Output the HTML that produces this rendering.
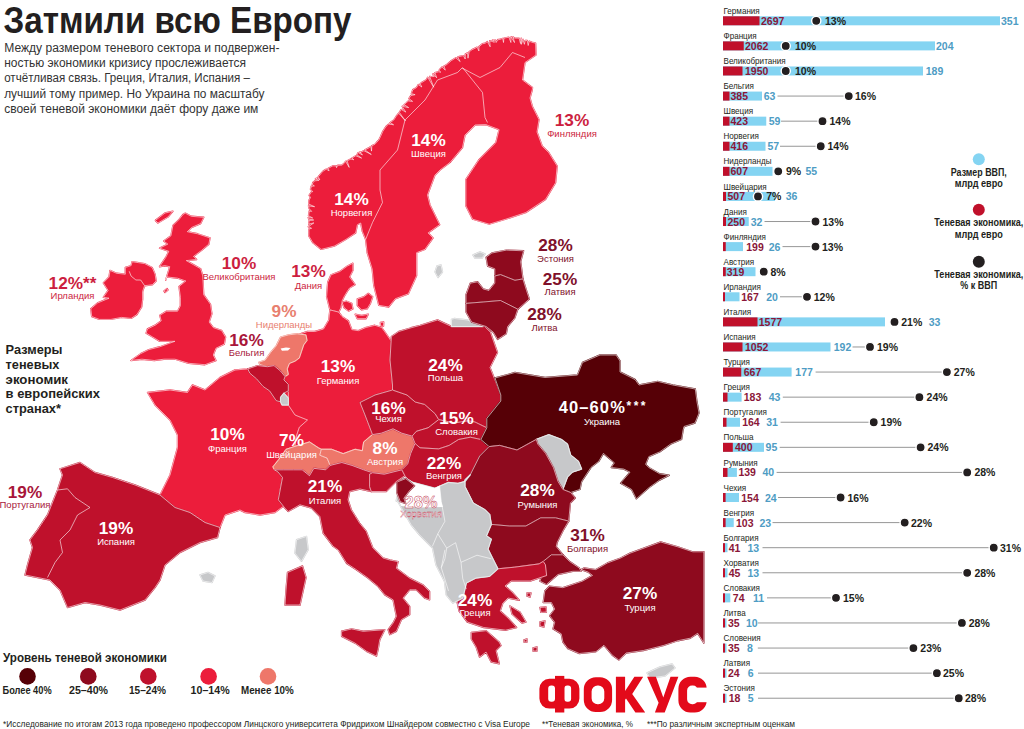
<!DOCTYPE html><html><head><meta charset="utf-8"><style>html,body{margin:0;padding:0;background:#fff;width:1024px;height:729px;overflow:hidden}svg{display:block;font-family:"Liberation Sans",sans-serif}</style></head><body>
<svg width="1024" height="729" viewBox="0 0 1024 729">
<g stroke-linejoin="round">
<path d="M132.1,261.7 L138.8,262.7 L144.6,263.6 L152.2,267.5 L155.1,274.2 L156.1,280.9 L152.2,284.8 L144.6,285.7 L142.6,291.5 L142.6,299.2 L141.7,306.9 L136.9,314.6 L131.1,318.4 L121.5,317.4 L110.9,319.4 L99.4,319.4 L91.7,316.5 L90.8,308.8 L97.5,303.0 L109.0,298.2 L103.3,297.3 L108.1,290.5 L103.3,282.9 L109.0,277.1 L110.0,270.4 L116.7,273.3 L125.3,274.2 L125.3,267.5 L131.1,265.6Z" fill="#EC1D3B" stroke="#EC1D3B" stroke-width="1.4"/>
<path d="M132.1,261.7 L138.8,262.7 L144.6,263.6 L152.2,267.5 L155.1,274.2 L156.1,280.9 L152.2,284.8 L144.6,285.7 L142.6,291.5 L142.6,299.2 L141.7,306.9 L136.9,314.6 L131.1,318.4 L121.5,317.4 L110.9,319.4 L99.4,319.4 L91.7,316.5 L90.8,308.8 L97.5,303.0 L109.0,298.2 L103.3,297.3 L108.1,290.5 L103.3,282.9 L109.0,277.1 L110.0,270.4 L116.7,273.3 L125.3,274.2 L125.3,267.5 L131.1,265.6Z" fill="none" stroke="#fff" stroke-opacity="0.85" stroke-width="0.7"/>
<path d="M185.3,213.2 L191.4,216.3 L203.8,217.3 L200.7,223.5 L191.4,227.6 L187.3,231.7 L197.6,233.8 L210.0,237.9 L208.9,244.1 L201.7,250.3 L193.5,256.4 L196.6,259.5 L186.3,260.6 L193.5,264.7 L200.7,268.8 L202.8,276.0 L203.7,294.7 L210.5,304.3 L211.9,313.9 L209.2,322.1 L213.3,327.6 L221.5,330.4 L225.6,337.2 L224.3,344.1 L216.0,348.2 L213.3,355.0 L216.0,360.5 L205.0,364.7 L188.6,363.3 L174.9,359.2 L163.9,359.2 L154.3,360.5 L141.9,359.2 L131.0,360.5 L140.6,353.7 L148.8,349.6 L159.8,346.8 L174.9,341.3 L159.8,341.3 L152.9,337.2 L146.1,333.1 L147.4,329.0 L155.7,324.9 L161.2,320.8 L159.8,315.3 L166.6,311.2 L177.6,311.2 L180.4,305.7 L180.4,297.4 L179.0,286.5 L185.8,281.0 L177.6,278.2 L166.6,276.9 L165.7,280.0 L169.8,266.7 L164.7,265.7 L159.5,266.7 L165.7,257.5 L168.8,251.3 L159.5,248.2 L167.8,244.1 L163.7,241.0 L170.9,235.9 L172.9,225.6 L179.1,219.4 L183.2,214.3Z" fill="#EC1D3B" stroke="#EC1D3B" stroke-width="1.4"/>
<path d="M185.3,213.2 L191.4,216.3 L203.8,217.3 L200.7,223.5 L191.4,227.6 L187.3,231.7 L197.6,233.8 L210.0,237.9 L208.9,244.1 L201.7,250.3 L193.5,256.4 L196.6,259.5 L186.3,260.6 L193.5,264.7 L200.7,268.8 L202.8,276.0 L203.7,294.7 L210.5,304.3 L211.9,313.9 L209.2,322.1 L213.3,327.6 L221.5,330.4 L225.6,337.2 L224.3,344.1 L216.0,348.2 L213.3,355.0 L216.0,360.5 L205.0,364.7 L188.6,363.3 L174.9,359.2 L163.9,359.2 L154.3,360.5 L141.9,359.2 L131.0,360.5 L140.6,353.7 L148.8,349.6 L159.8,346.8 L174.9,341.3 L159.8,341.3 L152.9,337.2 L146.1,333.1 L147.4,329.0 L155.7,324.9 L161.2,320.8 L159.8,315.3 L166.6,311.2 L177.6,311.2 L180.4,305.7 L180.4,297.4 L179.0,286.5 L185.8,281.0 L177.6,278.2 L166.6,276.9 L165.7,280.0 L169.8,266.7 L164.7,265.7 L159.5,266.7 L165.7,257.5 L168.8,251.3 L159.5,248.2 L167.8,244.1 L163.7,241.0 L170.9,235.9 L172.9,225.6 L179.1,219.4 L183.2,214.3Z" fill="none" stroke="#fff" stroke-opacity="0.85" stroke-width="0.7"/>
<path d="M308.8,236.0 L308.9,233.2 L308.8,229.1 L311.6,228.3 L308.8,226.8 L308.3,226.7 L313.9,222.9 L308.6,224.1 L309.2,220.5 L313.7,220.0 L309.0,219.2 L308.2,217.6 L312.7,218.0 L308.5,215.7 L308.8,214.0 L309.2,211.0 L311.7,211.4 L309.1,208.6 L308.5,205.9 L314.6,206.7 L308.7,204.1 L309.0,200.0 L310.5,197.6 L309.1,195.4 L311.6,191.6 L312.7,191.7 L311.3,190.0 L310.4,189.0 L311.0,188.0 L311.2,186.3 L314.4,185.9 L312.3,184.6 L312.8,182.6 L314.9,180.8 L318.9,180.4 L315.9,178.4 L315.4,179.0 L317.7,178.0 L319.8,179.9 L318.3,176.7 L321.9,172.4 L323.3,170.9 L326.3,169.2 L329.1,170.8 L328.2,168.4 L329.6,167.6 L332.9,165.8 L336.3,166.0 L336.5,167.7 L337.7,165.3 L339.0,165.2 L341.9,165.1 L343.9,163.6 L345.6,161.3 L349.2,167.4 L347.1,160.8 L350.9,159.0 L353.8,159.8 L352.1,158.1 L352.0,158.0 L355.7,155.8 L361.6,158.1 L356.9,154.8 L358.2,152.5 L362.5,155.0 L359.9,152.0 L359.7,152.8 L363.9,150.7 L371.3,154.5 L364.9,149.9 L369.1,147.7 L370.9,146.5 L371.5,151.1 L371.9,145.6 L374.8,144.4 L376.3,142.8 L378.8,140.0 L380.4,136.8 L382.8,131.4 L386.2,126.2 L388.7,124.1 L393.6,124.8 L390.1,122.5 L393.7,120.1 L396.2,116.3 L398.7,113.3 L405.4,120.8 L399.3,112.3 L401.3,109.5 L405.8,112.1 L402.8,107.5 L402.2,106.3 L408.7,107.6 L404.2,104.7 L406.2,103.0 L408.3,100.9 L412.6,101.4 L408.9,98.6 L410.9,95.5 L415.1,94.7 L411.4,93.6 L412.8,89.7 L416.5,87.6 L418.3,84.6 L421.8,87.0 L420.2,83.7 L421.9,82.4 L426.1,79.8 L427.7,77.3 L433.7,87.2 L429.7,76.5 L431.5,76.6 L434.3,76.5 L433.1,74.9 L433.0,73.6 L436.7,77.8 L434.9,72.6 L438.6,71.8 L440.8,72.2 L439.2,70.6 L439.4,69.8 L442.1,67.1 L445.3,70.1 L444.0,66.2 L446.8,64.5 L451.4,60.6 L455.8,57.8 L460.2,61.6 L457.7,57.1 L459.3,56.5 L463.4,55.6 L465.2,59.0 L465.3,54.1 L467.5,53.0 L468.0,58.2 L469.1,51.9 L472.0,49.7 L477.2,47.2 L478.9,51.0 L478.9,46.5 L479.2,46.6 L482.4,43.8 L485.2,43.2 L487.3,41.6 L490.2,46.8 L489.7,40.8 L491.9,41.4 L494.3,42.3 L493.6,39.9 L492.5,39.9 L495.7,40.2 L496.1,42.5 L498.0,39.4 L498.6,39.7 L502.7,38.4 L503.5,42.5 L503.9,38.1 L508.9,37.2 L510.9,42.5 L511.0,36.9 L511.1,36.9 L514.5,42.5 L513.0,36.6 L512.4,36.6 L514.8,38.1 L519.1,38.1 L520.5,43.5 L521.3,38.9 L521.2,38.3 L521.3,44.4 L523.1,39.3 L523.2,40.3 L524.4,44.3 L525.2,40.5 L527.2,40.5 L528.2,45.5 L529.2,41.2 L531.8,42.2 L535.6,43.2 L536.0,55.0 L525.0,62.5 L522.5,80.0 L532.5,87.5 L532.3,89.7 L530.0,98.0 L532.3,106.3 L539.0,119.6 L537.0,132.0 L542.3,146.2 L548.9,152.8 L557.2,166.1 L555.6,182.7 L545.6,199.3 L525.7,212.6 L505.8,219.2 L489.2,224.2 L472.6,219.2 L465.9,205.9 L465.9,179.4 L479.2,159.4 L495.8,142.8 L499.1,129.6 L485.8,124.6 L475.0,125.0 L465.0,135.0 L462.5,147.5 L450.0,162.5 L440.0,170.0 L435.0,175.0 L427.5,195.0 L430.0,205.0 L439.7,224.7 L428.1,232.9 L433.0,238.0 L424.9,249.4 L416.6,252.7 L416.6,275.7 L408.4,293.8 L395.2,298.8 L388.6,307.0 L378.8,305.4 L373.8,285.6 L372.2,269.1 L367.2,252.7 L365.6,239.5 L362.3,231.3 L360.7,223.0 L357.4,224.7 L355.7,232.9 L345.8,239.5 L334.3,246.1 L321.2,249.4 L312.9,242.8Z" fill="#EC1D3B" stroke="#EC1D3B" stroke-width="1.4"/>
<path d="M308.8,236.0 L308.9,233.2 L308.8,229.1 L311.6,228.3 L308.8,226.8 L308.3,226.7 L313.9,222.9 L308.6,224.1 L309.2,220.5 L313.7,220.0 L309.0,219.2 L308.2,217.6 L312.7,218.0 L308.5,215.7 L308.8,214.0 L309.2,211.0 L311.7,211.4 L309.1,208.6 L308.5,205.9 L314.6,206.7 L308.7,204.1 L309.0,200.0 L310.5,197.6 L309.1,195.4 L311.6,191.6 L312.7,191.7 L311.3,190.0 L310.4,189.0 L311.0,188.0 L311.2,186.3 L314.4,185.9 L312.3,184.6 L312.8,182.6 L314.9,180.8 L318.9,180.4 L315.9,178.4 L315.4,179.0 L317.7,178.0 L319.8,179.9 L318.3,176.7 L321.9,172.4 L323.3,170.9 L326.3,169.2 L329.1,170.8 L328.2,168.4 L329.6,167.6 L332.9,165.8 L336.3,166.0 L336.5,167.7 L337.7,165.3 L339.0,165.2 L341.9,165.1 L343.9,163.6 L345.6,161.3 L349.2,167.4 L347.1,160.8 L350.9,159.0 L353.8,159.8 L352.1,158.1 L352.0,158.0 L355.7,155.8 L361.6,158.1 L356.9,154.8 L358.2,152.5 L362.5,155.0 L359.9,152.0 L359.7,152.8 L363.9,150.7 L371.3,154.5 L364.9,149.9 L369.1,147.7 L370.9,146.5 L371.5,151.1 L371.9,145.6 L374.8,144.4 L376.3,142.8 L378.8,140.0 L380.4,136.8 L382.8,131.4 L386.2,126.2 L388.7,124.1 L393.6,124.8 L390.1,122.5 L393.7,120.1 L396.2,116.3 L398.7,113.3 L405.4,120.8 L399.3,112.3 L401.3,109.5 L405.8,112.1 L402.8,107.5 L402.2,106.3 L408.7,107.6 L404.2,104.7 L406.2,103.0 L408.3,100.9 L412.6,101.4 L408.9,98.6 L410.9,95.5 L415.1,94.7 L411.4,93.6 L412.8,89.7 L416.5,87.6 L418.3,84.6 L421.8,87.0 L420.2,83.7 L421.9,82.4 L426.1,79.8 L427.7,77.3 L433.7,87.2 L429.7,76.5 L431.5,76.6 L434.3,76.5 L433.1,74.9 L433.0,73.6 L436.7,77.8 L434.9,72.6 L438.6,71.8 L440.8,72.2 L439.2,70.6 L439.4,69.8 L442.1,67.1 L445.3,70.1 L444.0,66.2 L446.8,64.5 L451.4,60.6 L455.8,57.8 L460.2,61.6 L457.7,57.1 L459.3,56.5 L463.4,55.6 L465.2,59.0 L465.3,54.1 L467.5,53.0 L468.0,58.2 L469.1,51.9 L472.0,49.7 L477.2,47.2 L478.9,51.0 L478.9,46.5 L479.2,46.6 L482.4,43.8 L485.2,43.2 L487.3,41.6 L490.2,46.8 L489.7,40.8 L491.9,41.4 L494.3,42.3 L493.6,39.9 L492.5,39.9 L495.7,40.2 L496.1,42.5 L498.0,39.4 L498.6,39.7 L502.7,38.4 L503.5,42.5 L503.9,38.1 L508.9,37.2 L510.9,42.5 L511.0,36.9 L511.1,36.9 L514.5,42.5 L513.0,36.6 L512.4,36.6 L514.8,38.1 L519.1,38.1 L520.5,43.5 L521.3,38.9 L521.2,38.3 L521.3,44.4 L523.1,39.3 L523.2,40.3 L524.4,44.3 L525.2,40.5 L527.2,40.5 L528.2,45.5 L529.2,41.2 L531.8,42.2 L535.6,43.2 L536.0,55.0 L525.0,62.5 L522.5,80.0 L532.5,87.5 L532.3,89.7 L530.0,98.0 L532.3,106.3 L539.0,119.6 L537.0,132.0 L542.3,146.2 L548.9,152.8 L557.2,166.1 L555.6,182.7 L545.6,199.3 L525.7,212.6 L505.8,219.2 L489.2,224.2 L472.6,219.2 L465.9,205.9 L465.9,179.4 L479.2,159.4 L495.8,142.8 L499.1,129.6 L485.8,124.6 L475.0,125.0 L465.0,135.0 L462.5,147.5 L450.0,162.5 L440.0,170.0 L435.0,175.0 L427.5,195.0 L430.0,205.0 L439.7,224.7 L428.1,232.9 L433.0,238.0 L424.9,249.4 L416.6,252.7 L416.6,275.7 L408.4,293.8 L395.2,298.8 L388.6,307.0 L378.8,305.4 L373.8,285.6 L372.2,269.1 L367.2,252.7 L365.6,239.5 L362.3,231.3 L360.7,223.0 L357.4,224.7 L355.7,232.9 L345.8,239.5 L334.3,246.1 L321.2,249.4 L312.9,242.8Z" fill="none" stroke="#fff" stroke-opacity="0.85" stroke-width="0.7"/>
<path d="M331.0,274.8 L339.8,271.5 L347.4,266.0 L352.9,263.2 L352.9,270.4 L349.6,277.0 L355.1,284.6 L349.6,288.0 L347.4,291.2 L344.1,296.7 L342.0,301.1 L340.9,307.7 L338.7,312.1 L329.9,309.9 L326.6,296.7 L327.7,282.4Z" fill="#EC1D3B" stroke="#EC1D3B" stroke-width="1.4"/>
<path d="M331.0,274.8 L339.8,271.5 L347.4,266.0 L352.9,263.2 L352.9,270.4 L349.6,277.0 L355.1,284.6 L349.6,288.0 L347.4,291.2 L344.1,296.7 L342.0,301.1 L340.9,307.7 L338.7,312.1 L329.9,309.9 L326.6,296.7 L327.7,282.4Z" fill="none" stroke="#fff" stroke-opacity="0.85" stroke-width="0.7"/>
<path d="M342.0,302.2 L346.3,301.1 L351.8,303.3 L352.9,308.8 L348.5,311.0 L344.1,307.7Z" fill="#EC1D3B" stroke="#EC1D3B" stroke-width="1.4"/>
<path d="M342.0,302.2 L346.3,301.1 L351.8,303.3 L352.9,308.8 L348.5,311.0 L344.1,307.7Z" fill="none" stroke="#fff" stroke-opacity="0.85" stroke-width="0.7"/>
<path d="M357.3,298.9 L363.9,296.7 L368.3,293.4 L372.7,296.7 L370.5,303.3 L367.2,308.8 L361.7,309.9 L357.3,305.5Z" fill="#EC1D3B" stroke="#EC1D3B" stroke-width="1.4"/>
<path d="M357.3,298.9 L363.9,296.7 L368.3,293.4 L372.7,296.7 L370.5,303.3 L367.2,308.8 L361.7,309.9 L357.3,305.5Z" fill="none" stroke="#fff" stroke-opacity="0.85" stroke-width="0.7"/>
<path d="M355.1,314.3 L361.7,315.4 L368.3,314.3 L366.1,318.7 L357.3,318.7Z" fill="#EC1D3B" stroke="#EC1D3B" stroke-width="1.4"/>
<path d="M355.1,314.3 L361.7,315.4 L368.3,314.3 L366.1,318.7 L357.3,318.7Z" fill="none" stroke="#fff" stroke-opacity="0.85" stroke-width="0.7"/>
<path d="M235.0,370.0 L247.7,368.9 L265.0,366.0 L282.0,372.0 L290.0,385.0 L290.0,400.0 L289.0,405.5 L295.0,415.0 L307.5,420.0 L299.3,427.3 L296.4,436.1 L294.9,446.4 L286.1,449.3 L278.8,459.5 L272.9,466.9 L278.0,472.0 L282.5,477.5 L280.0,490.0 L285.0,505.0 L275.0,512.5 L260.0,515.0 L245.0,512.5 L240.0,510.0 L225.0,515.0 L220.0,527.5 L205.0,522.5 L190.0,512.5 L175.0,507.5 L160.0,495.0 L165.0,485.0 L170.0,475.0 L177.5,447.5 L177.5,435.0 L170.0,420.0 L155.0,405.0 L147.5,392.5 L170.0,390.0 L187.5,392.5 L192.5,385.0 L205.0,390.0 L220.0,377.5Z" fill="#EC1D3B" stroke="#EC1D3B" stroke-width="1.4"/>
<path d="M235.0,370.0 L247.7,368.9 L265.0,366.0 L282.0,372.0 L290.0,385.0 L290.0,400.0 L289.0,405.5 L295.0,415.0 L307.5,420.0 L299.3,427.3 L296.4,436.1 L294.9,446.4 L286.1,449.3 L278.8,459.5 L272.9,466.9 L278.0,472.0 L282.5,477.5 L280.0,490.0 L285.0,505.0 L275.0,512.5 L260.0,515.0 L245.0,512.5 L240.0,510.0 L225.0,515.0 L220.0,527.5 L205.0,522.5 L190.0,512.5 L175.0,507.5 L160.0,495.0 L165.0,485.0 L170.0,475.0 L177.5,447.5 L177.5,435.0 L170.0,420.0 L155.0,405.0 L147.5,392.5 L170.0,390.0 L187.5,392.5 L192.5,385.0 L205.0,390.0 L220.0,377.5Z" fill="none" stroke="#fff" stroke-opacity="0.85" stroke-width="0.7"/>
<path d="M60.0,468.8 L80.0,462.5 L95.0,472.5 L112.5,477.5 L135.0,485.0 L160.0,495.0 L175.0,507.5 L190.0,512.5 L205.0,522.5 L220.0,527.5 L217.5,537.5 L200.0,542.5 L180.0,552.5 L165.0,565.0 L160.0,580.0 L155.0,587.5 L145.0,600.0 L120.0,610.0 L100.0,605.0 L85.0,602.5 L67.5,607.5 L60.0,590.0 L50.0,580.0 L25.0,575.0 L27.5,565.0 L32.5,547.5 L30.0,540.0 L37.5,530.0 L47.5,515.0 L57.5,490.0 L62.5,475.0Z" fill="#BF112C" stroke="#BF112C" stroke-width="1.4"/>
<path d="M60.0,468.8 L80.0,462.5 L95.0,472.5 L112.5,477.5 L135.0,485.0 L160.0,495.0 L175.0,507.5 L190.0,512.5 L205.0,522.5 L220.0,527.5 L217.5,537.5 L200.0,542.5 L180.0,552.5 L165.0,565.0 L160.0,580.0 L155.0,587.5 L145.0,600.0 L120.0,610.0 L100.0,605.0 L85.0,602.5 L67.5,607.5 L60.0,590.0 L50.0,580.0 L25.0,575.0 L27.5,565.0 L32.5,547.5 L30.0,540.0 L37.5,530.0 L47.5,515.0 L57.5,490.0 L62.5,475.0Z" fill="none" stroke="#fff" stroke-opacity="0.85" stroke-width="0.7"/>
<path d="M307.4,331.5 L314.8,331.5 L323.5,329.0 L328.8,320.0 L329.9,309.9 L338.7,312.1 L342.0,316.5 L348.5,320.9 L351.8,329.6 L358.4,330.7 L366.1,327.4 L374.9,325.3 L381.5,327.4 L384.8,331.8 L391.4,341.4 L390.0,360.0 L392.5,385.0 L392.5,390.0 L375.0,395.0 L360.0,402.5 L365.0,415.0 L372.5,434.6 L363.7,442.0 L362.3,450.8 L355.0,449.3 L343.2,453.7 L331.5,449.3 L321.3,449.3 L318.3,447.8 L309.5,442.0 L294.9,446.4 L296.4,436.1 L299.3,427.3 L307.5,420.0 L295.0,415.0 L288.3,405.0 L288.3,398.0 L288.3,390.9 L288.3,384.3 L283.9,379.9 L280.0,372.0 L275.0,360.0 L285.0,345.0 L300.0,334.0Z" fill="#EC1D3B" stroke="#EC1D3B" stroke-width="1.4"/>
<path d="M307.4,331.5 L314.8,331.5 L323.5,329.0 L328.8,320.0 L329.9,309.9 L338.7,312.1 L342.0,316.5 L348.5,320.9 L351.8,329.6 L358.4,330.7 L366.1,327.4 L374.9,325.3 L381.5,327.4 L384.8,331.8 L391.4,341.4 L390.0,360.0 L392.5,385.0 L392.5,390.0 L375.0,395.0 L360.0,402.5 L365.0,415.0 L372.5,434.6 L363.7,442.0 L362.3,450.8 L355.0,449.3 L343.2,453.7 L331.5,449.3 L321.3,449.3 L318.3,447.8 L309.5,442.0 L294.9,446.4 L296.4,436.1 L299.3,427.3 L307.5,420.0 L295.0,415.0 L288.3,405.0 L288.3,398.0 L288.3,390.9 L288.3,384.3 L283.9,379.9 L280.0,372.0 L275.0,360.0 L285.0,345.0 L300.0,334.0Z" fill="none" stroke="#fff" stroke-opacity="0.85" stroke-width="0.7"/>
<path d="M280.6,337.1 L288.3,334.9 L297.1,333.8 L305.9,334.9 L307.0,340.4 L303.7,344.8 L301.5,351.3 L299.3,357.9 L294.9,361.2 L289.4,363.4 L287.2,368.9 L288.3,374.4 L285.0,376.6 L280.6,371.1 L274.0,365.6 L267.4,366.7 L259.8,364.5 L258.7,362.3 L265.2,360.1 L270.7,352.4 L276.2,345.9Z" fill="#EE776A" stroke="#EE776A" stroke-width="1.4"/>
<path d="M280.6,337.1 L288.3,334.9 L297.1,333.8 L305.9,334.9 L307.0,340.4 L303.7,344.8 L301.5,351.3 L299.3,357.9 L294.9,361.2 L289.4,363.4 L287.2,368.9 L288.3,374.4 L285.0,376.6 L280.6,371.1 L274.0,365.6 L267.4,366.7 L259.8,364.5 L258.7,362.3 L265.2,360.1 L270.7,352.4 L276.2,345.9Z" fill="none" stroke="#fff" stroke-opacity="0.85" stroke-width="0.7"/>
<path d="M247.7,368.9 L257.6,365.6 L267.4,366.7 L274.0,365.6 L280.6,371.1 L285.0,376.6 L283.9,379.9 L288.3,384.3 L288.3,390.9 L283.9,393.1 L280.6,397.4 L280.6,401.8 L276.2,400.7 L269.6,390.9 L263.1,386.5 L256.5,378.8 L249.9,373.3Z" fill="#BF112C" stroke="#BF112C" stroke-width="1.4"/>
<path d="M247.7,368.9 L257.6,365.6 L267.4,366.7 L274.0,365.6 L280.6,371.1 L285.0,376.6 L283.9,379.9 L288.3,384.3 L288.3,390.9 L283.9,393.1 L280.6,397.4 L280.6,401.8 L276.2,400.7 L269.6,390.9 L263.1,386.5 L256.5,378.8 L249.9,373.3Z" fill="none" stroke="#fff" stroke-opacity="0.85" stroke-width="0.7"/>
<path d="M280.6,397.4 L283.9,393.1 L288.3,398.0 L288.3,405.0 L282.0,405.0 L280.6,401.8Z" fill="#C7C8CA" stroke="#C7C8CA" stroke-width="1.4"/>
<path d="M280.6,397.4 L283.9,393.1 L288.3,398.0 L288.3,405.0 L282.0,405.0 L280.6,401.8Z" fill="none" stroke="#fff" stroke-opacity="0.85" stroke-width="0.7"/>
<path d="M272.9,466.9 L278.8,459.5 L286.1,449.3 L294.9,446.4 L309.5,442.0 L318.3,447.8 L321.3,449.3 L319.8,455.2 L327.1,458.1 L330.1,465.4 L325.7,469.8 L313.9,468.3 L309.5,475.7 L302.2,469.8 L293.4,469.8 L283.2,469.8 L274.4,469.8Z" fill="#EE776A" stroke="#EE776A" stroke-width="1.4"/>
<path d="M272.9,466.9 L278.8,459.5 L286.1,449.3 L294.9,446.4 L309.5,442.0 L318.3,447.8 L321.3,449.3 L319.8,455.2 L327.1,458.1 L330.1,465.4 L325.7,469.8 L313.9,468.3 L309.5,475.7 L302.2,469.8 L293.4,469.8 L283.2,469.8 L274.4,469.8Z" fill="none" stroke="#fff" stroke-opacity="0.85" stroke-width="0.7"/>
<path d="M321.3,449.3 L331.5,449.3 L343.2,453.7 L355.0,449.3 L362.3,450.8 L363.7,442.0 L372.5,434.6 L381.3,433.2 L393.0,428.8 L401.8,433.2 L412.1,436.1 L415.0,443.4 L410.6,453.7 L407.7,463.9 L401.8,469.8 L384.3,474.2 L372.5,472.7 L363.7,469.8 L352.0,465.4 L341.8,462.5 L331.5,465.4 L330.1,465.4 L327.1,458.1 L319.8,455.2Z" fill="#EE776A" stroke="#EE776A" stroke-width="1.4"/>
<path d="M321.3,449.3 L331.5,449.3 L343.2,453.7 L355.0,449.3 L362.3,450.8 L363.7,442.0 L372.5,434.6 L381.3,433.2 L393.0,428.8 L401.8,433.2 L412.1,436.1 L415.0,443.4 L410.6,453.7 L407.7,463.9 L401.8,469.8 L384.3,474.2 L372.5,472.7 L363.7,469.8 L352.0,465.4 L341.8,462.5 L331.5,465.4 L330.1,465.4 L327.1,458.1 L319.8,455.2Z" fill="none" stroke="#fff" stroke-opacity="0.85" stroke-width="0.7"/>
<path d="M360.0,402.5 L375.0,395.0 L392.5,390.0 L407.0,395.0 L415.2,402.0 L424.6,404.4 L435.2,413.8 L438.7,419.6 L428.1,427.8 L416.4,431.3 L412.1,436.1 L401.8,433.2 L393.0,428.8 L381.3,433.2 L372.5,434.6 L365.0,415.0Z" fill="#BF112C" stroke="#BF112C" stroke-width="1.4"/>
<path d="M360.0,402.5 L375.0,395.0 L392.5,390.0 L407.0,395.0 L415.2,402.0 L424.6,404.4 L435.2,413.8 L438.7,419.6 L428.1,427.8 L416.4,431.3 L412.1,436.1 L401.8,433.2 L393.0,428.8 L381.3,433.2 L372.5,434.6 L365.0,415.0Z" fill="none" stroke="#fff" stroke-opacity="0.85" stroke-width="0.7"/>
<path d="M391.4,336.5 L398.8,331.5 L411.0,327.8 L420.0,325.4 L437.5,320.0 L451.5,326.5 L484.7,326.5 L490.4,332.2 L497.5,352.5 L490.0,367.5 L495.0,380.0 L500.8,395.0 L500.8,401.0 L486.8,418.4 L486.8,427.8 L475.0,422.0 L468.0,420.8 L454.0,423.0 L438.7,419.6 L435.2,413.8 L424.6,404.4 L415.2,402.0 L407.0,395.0 L392.5,390.0 L392.5,385.0 L390.0,360.0Z" fill="#BF112C" stroke="#BF112C" stroke-width="1.4"/>
<path d="M391.4,336.5 L398.8,331.5 L411.0,327.8 L420.0,325.4 L437.5,320.0 L451.5,326.5 L484.7,326.5 L490.4,332.2 L497.5,352.5 L490.0,367.5 L495.0,380.0 L500.8,395.0 L500.8,401.0 L486.8,418.4 L486.8,427.8 L475.0,422.0 L468.0,420.8 L454.0,423.0 L438.7,419.6 L435.2,413.8 L424.6,404.4 L415.2,402.0 L407.0,395.0 L392.5,390.0 L392.5,385.0 L390.0,360.0Z" fill="none" stroke="#fff" stroke-opacity="0.85" stroke-width="0.7"/>
<path d="M451.5,319.3 L454.4,318.5 L467.4,320.0 L483.2,326.5 L451.5,326.5Z" fill="#C7C8CA" stroke="#C7C8CA" stroke-width="1.4"/>
<path d="M451.5,319.3 L454.4,318.5 L467.4,320.0 L483.2,326.5 L451.5,326.5Z" fill="none" stroke="#fff" stroke-opacity="0.85" stroke-width="0.7"/>
<path d="M416.4,431.3 L428.1,427.8 L438.7,419.6 L454.0,423.0 L468.0,420.8 L475.0,422.0 L486.8,427.8 L480.9,439.5 L470.3,437.2 L458.6,439.5 L449.2,445.4 L438.7,448.9 L420.0,447.8 L415.0,443.4 L412.1,436.1Z" fill="#BF112C" stroke="#BF112C" stroke-width="1.4"/>
<path d="M416.4,431.3 L428.1,427.8 L438.7,419.6 L454.0,423.0 L468.0,420.8 L475.0,422.0 L486.8,427.8 L480.9,439.5 L470.3,437.2 L458.6,439.5 L449.2,445.4 L438.7,448.9 L420.0,447.8 L415.0,443.4 L412.1,436.1Z" fill="none" stroke="#fff" stroke-opacity="0.85" stroke-width="0.7"/>
<path d="M415.0,443.4 L420.0,447.8 L438.7,448.9 L449.2,445.4 L458.6,439.5 L470.3,437.2 L480.9,439.5 L489.1,446.6 L479.7,456.0 L470.3,474.7 L465.0,481.5 L458.0,483.4 L448.4,482.5 L434.7,488.3 L413.0,482.5 L408.3,479.5 L404.8,475.7 L401.8,469.8 L407.7,463.9 L410.6,453.7Z" fill="#BF112C" stroke="#BF112C" stroke-width="1.4"/>
<path d="M415.0,443.4 L420.0,447.8 L438.7,448.9 L449.2,445.4 L458.6,439.5 L470.3,437.2 L480.9,439.5 L489.1,446.6 L479.7,456.0 L470.3,474.7 L465.0,481.5 L458.0,483.4 L448.4,482.5 L434.7,488.3 L413.0,482.5 L408.3,479.5 L404.8,475.7 L401.8,469.8 L407.7,463.9 L410.6,453.7Z" fill="none" stroke="#fff" stroke-opacity="0.85" stroke-width="0.7"/>
<path d="M486.1,257.3 L491.9,253.0 L506.3,250.1 L523.6,250.8 L520.7,261.6 L522.9,278.9 L514.9,280.3 L500.5,274.6 L494.8,276.0 L494.8,268.8 L487.6,266.0Z" fill="#8E0A1E" stroke="#8E0A1E" stroke-width="1.4"/>
<path d="M486.1,257.3 L491.9,253.0 L506.3,250.1 L523.6,250.8 L520.7,261.6 L522.9,278.9 L514.9,280.3 L500.5,274.6 L494.8,276.0 L494.8,268.8 L487.6,266.0Z" fill="none" stroke="#fff" stroke-opacity="0.85" stroke-width="0.7"/>
<path d="M466.0,294.8 L470.3,283.2 L477.5,281.8 L483.2,289.0 L489.0,290.4 L494.8,283.2 L494.8,276.0 L500.5,274.6 L514.9,280.3 L522.9,278.9 L526.5,290.4 L529.3,299.0 L517.8,309.2 L500.5,300.5 L483.2,302.0 L466.0,303.4Z" fill="#8E0A1E" stroke="#8E0A1E" stroke-width="1.4"/>
<path d="M466.0,294.8 L470.3,283.2 L477.5,281.8 L483.2,289.0 L489.0,290.4 L494.8,283.2 L494.8,276.0 L500.5,274.6 L514.9,280.3 L522.9,278.9 L526.5,290.4 L529.3,299.0 L517.8,309.2 L500.5,300.5 L483.2,302.0 L466.0,303.4Z" fill="none" stroke="#fff" stroke-opacity="0.85" stroke-width="0.7"/>
<path d="M466.0,303.4 L483.2,302.0 L500.5,300.5 L517.8,309.2 L514.9,317.8 L507.7,326.5 L506.3,333.7 L497.6,339.4 L493.3,332.2 L486.1,326.5 L471.7,322.1 L466.0,312.0Z" fill="#8E0A1E" stroke="#8E0A1E" stroke-width="1.4"/>
<path d="M466.0,303.4 L483.2,302.0 L500.5,300.5 L517.8,309.2 L514.9,317.8 L507.7,326.5 L506.3,333.7 L497.6,339.4 L493.3,332.2 L486.1,326.5 L471.7,322.1 L466.0,312.0Z" fill="none" stroke="#fff" stroke-opacity="0.85" stroke-width="0.7"/>
<path d="M495.0,378.0 L515.0,372.5 L545.0,377.5 L577.5,375.0 L582.5,362.5 L600.0,355.0 L616.0,355.0 L620.0,361.0 L620.0,372.0 L635.0,379.5 L639.0,385.0 L657.7,381.4 L672.8,385.0 L695.3,389.0 L697.0,402.0 L699.0,413.0 L695.0,423.0 L684.0,426.5 L683.1,430.0 L681.6,439.4 L670.6,444.1 L659.7,451.9 L648.8,456.6 L645.6,464.4 L648.8,467.5 L659.7,473.8 L669.1,475.3 L659.7,480.0 L648.8,487.8 L636.3,498.8 L631.6,489.4 L620.6,483.1 L630.0,472.2 L623.8,469.1 L611.3,467.5 L614.4,462.8 L603.4,453.4 L598.8,461.3 L590.9,467.5 L581.6,481.6 L580.0,489.4 L570.6,492.5 L562.8,489.4 L567.5,476.9 L572.2,472.2 L581.6,469.1 L578.4,461.3 L570.6,455.0 L567.5,444.1 L561.3,439.4 L548.8,434.7 L536.3,439.4 L517.0,450.0 L499.6,445.4 L489.1,446.6 L480.9,439.5 L486.8,427.8 L486.8,418.4 L500.8,401.0 L500.8,395.0Z" fill="#560006" stroke="#560006" stroke-width="1.4"/>
<path d="M495.0,378.0 L515.0,372.5 L545.0,377.5 L577.5,375.0 L582.5,362.5 L600.0,355.0 L616.0,355.0 L620.0,361.0 L620.0,372.0 L635.0,379.5 L639.0,385.0 L657.7,381.4 L672.8,385.0 L695.3,389.0 L697.0,402.0 L699.0,413.0 L695.0,423.0 L684.0,426.5 L683.1,430.0 L681.6,439.4 L670.6,444.1 L659.7,451.9 L648.8,456.6 L645.6,464.4 L648.8,467.5 L659.7,473.8 L669.1,475.3 L659.7,480.0 L648.8,487.8 L636.3,498.8 L631.6,489.4 L620.6,483.1 L630.0,472.2 L623.8,469.1 L611.3,467.5 L614.4,462.8 L603.4,453.4 L598.8,461.3 L590.9,467.5 L581.6,481.6 L580.0,489.4 L570.6,492.5 L562.8,489.4 L567.5,476.9 L572.2,472.2 L581.6,469.1 L578.4,461.3 L570.6,455.0 L567.5,444.1 L561.3,439.4 L548.8,434.7 L536.3,439.4 L517.0,450.0 L499.6,445.4 L489.1,446.6 L480.9,439.5 L486.8,427.8 L486.8,418.4 L500.8,401.0 L500.8,395.0Z" fill="none" stroke="#fff" stroke-opacity="0.85" stroke-width="0.7"/>
<path d="M536.3,439.4 L548.8,434.7 L561.3,439.4 L567.5,444.1 L570.6,455.0 L578.4,461.3 L581.6,469.1 L572.2,472.2 L567.5,476.9 L562.8,489.4 L558.1,481.6 L553.4,467.5 L545.6,453.4 L537.8,444.1Z" fill="#C7C8CA" stroke="#C7C8CA" stroke-width="1.4"/>
<path d="M536.3,439.4 L548.8,434.7 L561.3,439.4 L567.5,444.1 L570.6,455.0 L578.4,461.3 L581.6,469.1 L572.2,472.2 L567.5,476.9 L562.8,489.4 L558.1,481.6 L553.4,467.5 L545.6,453.4 L537.8,444.1Z" fill="none" stroke="#fff" stroke-opacity="0.85" stroke-width="0.7"/>
<path d="M489.1,446.6 L499.6,445.4 L517.0,450.0 L536.3,439.4 L537.8,444.1 L545.6,453.4 L553.4,467.5 L558.1,481.6 L562.8,489.4 L570.6,492.5 L575.3,498.0 L570.4,503.0 L568.7,521.1 L555.6,517.8 L540.7,517.8 L525.9,526.0 L509.4,526.0 L491.3,524.4 L489.7,514.5 L484.7,509.5 L473.2,503.0 L464.9,486.5 L464.9,479.9 L470.3,474.7 L479.7,456.0Z" fill="#8E0A1E" stroke="#8E0A1E" stroke-width="1.4"/>
<path d="M489.1,446.6 L499.6,445.4 L517.0,450.0 L536.3,439.4 L537.8,444.1 L545.6,453.4 L553.4,467.5 L558.1,481.6 L562.8,489.4 L570.6,492.5 L575.3,498.0 L570.4,503.0 L568.7,521.1 L555.6,517.8 L540.7,517.8 L525.9,526.0 L509.4,526.0 L491.3,524.4 L489.7,514.5 L484.7,509.5 L473.2,503.0 L464.9,486.5 L464.9,479.9 L470.3,474.7 L479.7,456.0Z" fill="none" stroke="#fff" stroke-opacity="0.85" stroke-width="0.7"/>
<path d="M491.3,524.4 L509.4,526.0 L525.9,526.0 L540.7,517.8 L555.6,517.8 L568.7,521.1 L563.8,529.3 L557.2,542.5 L556.3,546.6 L562.9,554.8 L551.4,554.8 L543.2,561.4 L539.1,563.9 L514.4,567.2 L497.9,568.8 L494.6,562.3 L488.0,549.1 L491.3,539.2 L486.4,535.9Z" fill="#8E0A1E" stroke="#8E0A1E" stroke-width="1.4"/>
<path d="M491.3,524.4 L509.4,526.0 L525.9,526.0 L540.7,517.8 L555.6,517.8 L568.7,521.1 L563.8,529.3 L557.2,542.5 L556.3,546.6 L562.9,554.8 L551.4,554.8 L543.2,561.4 L539.1,563.9 L514.4,567.2 L497.9,568.8 L494.6,562.3 L488.0,549.1 L491.3,539.2 L486.4,535.9Z" fill="none" stroke="#fff" stroke-opacity="0.85" stroke-width="0.7"/>
<path d="M543.2,561.4 L551.4,554.8 L562.9,554.8 L569.5,561.4 L579.3,568.0 L581.0,571.3 L572.8,571.3 L558.0,574.5 L546.4,584.4 L539.9,581.1 L543.2,572.9 L539.9,564.7Z" fill="#8E0A1E" stroke="#8E0A1E" stroke-width="1.4"/>
<path d="M543.2,561.4 L551.4,554.8 L562.9,554.8 L569.5,561.4 L579.3,568.0 L581.0,571.3 L572.8,571.3 L558.0,574.5 L546.4,584.4 L539.9,581.1 L543.2,572.9 L539.9,564.7Z" fill="none" stroke="#fff" stroke-opacity="0.85" stroke-width="0.7"/>
<path d="M581.0,569.6 L584.3,568.0 L595.8,569.6 L607.3,563.0 L620.5,558.1 L630.0,553.2 L660.7,542.0 L678.0,546.9 L692.8,551.8 L703.9,551.8 L703.9,643.1 L697.7,633.3 L690.3,638.2 L678.0,640.7 L663.1,645.6 L643.4,650.5 L626.1,653.0 L618.8,660.0 L612.2,655.1 L604.0,645.3 L595.8,651.8 L579.3,653.5 L567.8,648.6 L562.9,642.0 L561.2,633.8 L553.0,628.8 L554.7,622.2 L549.7,615.7 L554.7,609.1 L551.4,602.5 L543.2,602.5 L544.8,591.0 L549.7,586.1 L562.9,587.7 L582.6,581.1 L592.5,575.4 L588.0,572.0Z" fill="#8E0A1E" stroke="#8E0A1E" stroke-width="1.4"/>
<path d="M581.0,569.6 L584.3,568.0 L595.8,569.6 L607.3,563.0 L620.5,558.1 L630.0,553.2 L660.7,542.0 L678.0,546.9 L692.8,551.8 L703.9,551.8 L703.9,643.1 L697.7,633.3 L690.3,638.2 L678.0,640.7 L663.1,645.6 L643.4,650.5 L626.1,653.0 L618.8,660.0 L612.2,655.1 L604.0,645.3 L595.8,651.8 L579.3,653.5 L567.8,648.6 L562.9,642.0 L561.2,633.8 L553.0,628.8 L554.7,622.2 L549.7,615.7 L554.7,609.1 L551.4,602.5 L543.2,602.5 L544.8,591.0 L549.7,586.1 L562.9,587.7 L582.6,581.1 L592.5,575.4 L588.0,572.0Z" fill="none" stroke="#fff" stroke-opacity="0.85" stroke-width="0.7"/>
<path d="M456.5,599.4 L466.4,582.9 L476.0,578.0 L489.4,576.4 L497.9,568.8 L514.4,567.2 L539.1,563.9 L543.2,561.4 L545.4,564.8 L546.6,575.5 L530.2,581.0 L511.1,581.0 L505.0,586.0 L512.0,592.0 L519.3,600.2 L508.0,598.0 L502.9,603.0 L500.2,611.1 L508.0,618.0 L516.6,627.5 L505.6,630.2 L483.8,627.5 L467.3,622.0 L459.1,611.1Z" fill="#BF112C" stroke="#BF112C" stroke-width="1.4"/>
<path d="M456.5,599.4 L466.4,582.9 L476.0,578.0 L489.4,576.4 L497.9,568.8 L514.4,567.2 L539.1,563.9 L543.2,561.4 L545.4,564.8 L546.6,575.5 L530.2,581.0 L511.1,581.0 L505.0,586.0 L512.0,592.0 L519.3,600.2 L508.0,598.0 L502.9,603.0 L500.2,611.1 L508.0,618.0 L516.6,627.5 L505.6,630.2 L483.8,627.5 L467.3,622.0 L459.1,611.1Z" fill="none" stroke="#fff" stroke-opacity="0.85" stroke-width="0.7"/>
<path d="M396.2,501.0 L402.0,476.0 L413.0,482.5 L434.7,488.3 L448.4,482.5 L458.0,483.4 L465.0,481.5 L470.3,474.7 L464.9,479.9 L464.9,486.5 L473.2,503.0 L484.7,509.5 L489.7,514.5 L491.3,524.4 L486.4,535.9 L491.3,539.2 L488.0,549.1 L494.6,562.3 L497.9,568.8 L489.4,576.4 L476.0,578.0 L466.4,582.9 L462.8,598.1 L452.8,603.1 L446.2,594.8 L444.5,581.5 L436.0,565.0 L432.5,548.0 L419.4,534.7 L411.1,524.7 L397.8,501.5Z" fill="#C7C8CA" stroke="#C7C8CA" stroke-width="1.4"/>
<path d="M396.2,501.0 L402.0,476.0 L413.0,482.5 L434.7,488.3 L448.4,482.5 L458.0,483.4 L465.0,481.5 L470.3,474.7 L464.9,479.9 L464.9,486.5 L473.2,503.0 L484.7,509.5 L489.7,514.5 L491.3,524.4 L486.4,535.9 L491.3,539.2 L488.0,549.1 L494.6,562.3 L497.9,568.8 L489.4,576.4 L476.0,578.0 L466.4,582.9 L462.8,598.1 L452.8,603.1 L446.2,594.8 L444.5,581.5 L436.0,565.0 L432.5,548.0 L419.4,534.7 L411.1,524.7 L397.8,501.5Z" fill="none" stroke="#fff" stroke-opacity="0.85" stroke-width="0.7"/>
<path d="M405.0,481.0 L413.0,482.5 L434.7,488.3 L439.6,485.7 L441.3,501.7 L443.0,507.0 L420.0,507.5 L401.0,506.0 L398.0,498.0 L403.0,490.0Z" fill="#fff"/>
<path d="M396.8,482.1 L405.7,478.6 L414.6,485.7 L409.3,491.0 L403.9,498.2 L405.7,503.5 L400.3,501.7 L396.8,492.8Z" fill="#8E0A1E" stroke="#8E0A1E" stroke-width="1.4"/>
<path d="M396.8,482.1 L405.7,478.6 L414.6,485.7 L409.3,491.0 L403.9,498.2 L405.7,503.5 L400.3,501.7 L396.8,492.8Z" fill="none" stroke="#fff" stroke-opacity="0.85" stroke-width="0.7"/>
<path d="M274.4,469.8 L283.2,469.8 L293.4,469.8 L302.2,469.8 L309.5,475.7 L313.9,468.3 L325.7,469.8 L330.1,465.4 L341.8,462.5 L352.0,465.4 L363.7,469.8 L372.5,472.7 L369.6,474.2 L369.6,486.6 L371.3,491.5 L360.0,489.0 L349.7,491.5 L348.0,499.8 L351.3,509.8 L359.6,523.1 L366.3,531.4 L372.9,548.0 L382.9,557.9 L389.8,560.0 L398.1,561.6 L396.4,568.3 L409.7,578.2 L423.0,584.9 L429.6,591.5 L429.6,599.8 L424.6,598.1 L416.3,589.8 L409.7,589.8 L403.0,598.1 L409.7,606.4 L409.7,614.7 L401.4,619.7 L396.4,631.3 L389.8,634.7 L388.1,629.7 L393.1,623.0 L396.4,616.4 L394.7,608.1 L393.1,599.8 L384.8,594.8 L378.1,586.5 L368.2,578.2 L356.6,569.9 L346.6,563.3 L338.3,550.0 L333.1,546.3 L323.1,533.0 L319.8,516.4 L311.5,508.1 L299.9,504.8 L288.3,511.5 L284.9,508.1 L278.3,499.8 L282.5,477.5 L278.0,472.0Z" fill="#BF112C" stroke="#BF112C" stroke-width="1.4"/>
<path d="M274.4,469.8 L283.2,469.8 L293.4,469.8 L302.2,469.8 L309.5,475.7 L313.9,468.3 L325.7,469.8 L330.1,465.4 L341.8,462.5 L352.0,465.4 L363.7,469.8 L372.5,472.7 L369.6,474.2 L369.6,486.6 L371.3,491.5 L360.0,489.0 L349.7,491.5 L348.0,499.8 L351.3,509.8 L359.6,523.1 L366.3,531.4 L372.9,548.0 L382.9,557.9 L389.8,560.0 L398.1,561.6 L396.4,568.3 L409.7,578.2 L423.0,584.9 L429.6,591.5 L429.6,599.8 L424.6,598.1 L416.3,589.8 L409.7,589.8 L403.0,598.1 L409.7,606.4 L409.7,614.7 L401.4,619.7 L396.4,631.3 L389.8,634.7 L388.1,629.7 L393.1,623.0 L396.4,616.4 L394.7,608.1 L393.1,599.8 L384.8,594.8 L378.1,586.5 L368.2,578.2 L356.6,569.9 L346.6,563.3 L338.3,550.0 L333.1,546.3 L323.1,533.0 L319.8,516.4 L311.5,508.1 L299.9,504.8 L288.3,511.5 L284.9,508.1 L278.3,499.8 L282.5,477.5 L278.0,472.0Z" fill="none" stroke="#fff" stroke-opacity="0.85" stroke-width="0.7"/>
<path d="M372.5,472.7 L384.3,474.2 L401.8,469.8 L404.8,475.7 L396.2,481.6 L386.2,491.5 L371.3,491.5 L369.6,486.6 L369.6,474.2Z" fill="#BF112C" stroke="#BF112C" stroke-width="1.4"/>
<path d="M372.5,472.7 L384.3,474.2 L401.8,469.8 L404.8,475.7 L396.2,481.6 L386.2,491.5 L371.3,491.5 L369.6,486.6 L369.6,474.2Z" fill="none" stroke="#fff" stroke-opacity="0.85" stroke-width="0.7"/>
<path d="M471.3,632.4 L486.1,630.7 L499.3,642.3 L501.0,645.6 L496.0,650.5 L499.3,663.7 L491.1,662.0 L486.1,652.1 L479.5,657.1 L476.2,647.2 L471.3,639.0Z" fill="#BF112C" stroke="#BF112C" stroke-width="1.4"/>
<path d="M471.3,632.4 L486.1,630.7 L499.3,642.3 L501.0,645.6 L496.0,650.5 L499.3,663.7 L491.1,662.0 L486.1,652.1 L479.5,657.1 L476.2,647.2 L471.3,639.0Z" fill="none" stroke="#fff" stroke-opacity="0.85" stroke-width="0.7"/>
<path d="M287.5,572.5 L302.5,566.0 L306.0,577.5 L300.0,605.0 L285.0,605.0 L286.0,590.0Z" fill="#BF112C" stroke="#BF112C" stroke-width="1.4"/>
<path d="M287.5,572.5 L302.5,566.0 L306.0,577.5 L300.0,605.0 L285.0,605.0 L286.0,590.0Z" fill="none" stroke="#fff" stroke-opacity="0.85" stroke-width="0.7"/>
<path d="M341.6,631.3 L351.6,628.9 L363.2,631.3 L384.8,629.7 L379.8,639.6 L378.1,649.6 L376.5,656.2 L366.5,651.3 L354.9,643.0 L341.6,636.3Z" fill="#BF112C" stroke="#BF112C" stroke-width="1.4"/>
<path d="M341.6,631.3 L351.6,628.9 L363.2,631.3 L384.8,629.7 L379.8,639.6 L378.1,649.6 L376.5,656.2 L366.5,651.3 L354.9,643.0 L341.6,636.3Z" fill="none" stroke="#fff" stroke-opacity="0.85" stroke-width="0.7"/>
<path d="M380.4,322.5 L383.7,322.0 L383.5,326.3 L380.6,326.0Z" fill="#EC1D3B" stroke="#EC1D3B" stroke-width="1.4"/>
<path d="M380.4,322.5 L383.7,322.0 L383.5,326.3 L380.6,326.0Z" fill="none" stroke="#fff" stroke-opacity="0.85" stroke-width="0.7"/>
<path d="M155.4,220.4 L165.0,213.0 L172.9,211.2 L168.0,217.0 L158.0,223.0Z" fill="#EC1D3B" stroke="#EC1D3B" stroke-width="1.4"/>
<path d="M155.4,220.4 L165.0,213.0 L172.9,211.2 L168.0,217.0 L158.0,223.0Z" fill="none" stroke="#fff" stroke-opacity="0.85" stroke-width="0.7"/>
<path d="M164.0,291.0 L167.0,288.5 L168.0,290.0 L165.0,292.5Z" fill="#EC1D3B" stroke="#EC1D3B" stroke-width="1.4"/>
<path d="M164.0,291.0 L167.0,288.5 L168.0,290.0 L165.0,292.5Z" fill="none" stroke="#fff" stroke-opacity="0.85" stroke-width="0.7"/>
<path d="M280.6,348.5 L286.0,347.5 L290.5,348.0 L288.0,350.5 L282.0,350.8Z" fill="#fff"/>
<path d="M540.0,607.5 L546.0,607.0 L546.4,612.0 L541.0,612.4Z" fill="#BF112C" stroke="#BF112C" stroke-width="1.4"/>
<path d="M540.0,607.5 L546.0,607.0 L546.4,612.0 L541.0,612.4Z" fill="none" stroke="#fff" stroke-opacity="0.85" stroke-width="0.7"/>
<path d="M540.0,622.0 L545.0,621.0 L544.0,627.0 L540.0,626.0Z" fill="#BF112C" stroke="#BF112C" stroke-width="1.4"/>
<path d="M540.0,622.0 L545.0,621.0 L544.0,627.0 L540.0,626.0Z" fill="none" stroke="#fff" stroke-opacity="0.85" stroke-width="0.7"/>
<path d="M510.0,606.0 L520.0,612.0 L526.0,622.0 L522.0,623.0 L512.0,614.0Z" fill="#BF112C" stroke="#BF112C" stroke-width="1.4"/>
<path d="M510.0,606.0 L520.0,612.0 L526.0,622.0 L522.0,623.0 L512.0,614.0Z" fill="none" stroke="#fff" stroke-opacity="0.85" stroke-width="0.7"/>
<path d="M527.0,593.0 L531.0,593.0 L530.0,597.0 L527.0,596.0Z" fill="#BF112C" stroke="#BF112C" stroke-width="1.4"/>
<path d="M527.0,593.0 L531.0,593.0 L530.0,597.0 L527.0,596.0Z" fill="none" stroke="#fff" stroke-opacity="0.85" stroke-width="0.7"/>
<path d="M533.0,648.0 L537.0,647.0 L537.0,651.0 L533.0,651.0Z" fill="#BF112C" stroke="#BF112C" stroke-width="1.4"/>
<path d="M533.0,648.0 L537.0,647.0 L537.0,651.0 L533.0,651.0Z" fill="none" stroke="#fff" stroke-opacity="0.85" stroke-width="0.7"/>
<path d="M524.0,640.0 L527.0,639.0 L527.0,642.0 L524.0,642.0Z" fill="#BF112C" stroke="#BF112C" stroke-width="1.4"/>
<path d="M524.0,640.0 L527.0,639.0 L527.0,642.0 L524.0,642.0Z" fill="none" stroke="#fff" stroke-opacity="0.85" stroke-width="0.7"/>
<path d="M296.6,539.7 L306.5,536.4 L308.2,549.6 L301.5,561.3 L294.9,553.0Z" fill="#C7C8CA" stroke="#C7C8CA" stroke-width="1.4"/>
<path d="M296.6,539.7 L306.5,536.4 L308.2,549.6 L301.5,561.3 L294.9,553.0Z" fill="none" stroke="#fff" stroke-opacity="0.85" stroke-width="0.7"/>
<path d="M647.0,673.0 L660.0,667.0 L672.0,664.0 L675.0,668.0 L665.0,676.0 L650.0,678.0Z" fill="#C7C8CA" stroke="#C7C8CA" stroke-width="1.4"/>
<path d="M647.0,673.0 L660.0,667.0 L672.0,664.0 L675.0,668.0 L665.0,676.0 L650.0,678.0Z" fill="none" stroke="#fff" stroke-opacity="0.85" stroke-width="0.7"/>
<path d="M437.0,266.0 L441.0,265.0 L442.5,272.0 L438.0,277.5 L435.0,272.0Z" fill="#C7C8CA" stroke="#C7C8CA" stroke-width="1.4"/>
<path d="M437.0,266.0 L441.0,265.0 L442.5,272.0 L438.0,277.5 L435.0,272.0Z" fill="none" stroke="#fff" stroke-opacity="0.85" stroke-width="0.7"/>
<path d="M473.0,255.0 L480.0,252.0 L485.0,254.0 L482.0,258.0 L475.0,258.0Z" fill="#C7C8CA" stroke="#C7C8CA" stroke-width="1.4"/>
<path d="M473.0,255.0 L480.0,252.0 L485.0,254.0 L482.0,258.0 L475.0,258.0Z" fill="none" stroke="#fff" stroke-opacity="0.85" stroke-width="0.7"/>
<path d="M200.0,575.0 L208.0,572.5 L215.0,576.0 L212.0,582.5 L203.0,581.0Z" fill="#C7C8CA" stroke="#C7C8CA" stroke-width="1.4"/>
<path d="M200.0,575.0 L208.0,572.5 L215.0,576.0 L212.0,582.5 L203.0,581.0Z" fill="none" stroke="#fff" stroke-opacity="0.85" stroke-width="0.7"/>
</g>
<g stroke="#fff" stroke-width="0.7" stroke-opacity="0.85" fill="none">
<path d="M365.6,239.5 L372.5,222.5 L382.5,202.5 L380.0,190.0 L380.0,170.0 L397.5,150.0 L405.0,120.0 L425.0,100.0 L437.5,80.0 L457.5,72.5 L462.0,68.0"/>
<path d="M462.0,68.0 L480.0,77.5 L500.0,67.5 L512.5,52.5 L525.0,57.5"/>
<path d="M462.5,67.5 L482.5,92.5 L485.0,117.5 L487.5,122.5"/>
<path d="M129.2,271.3 L131.1,276.1 L135.9,280.0 L140.7,280.0 L144.6,285.7"/>
<path d="M439.6,485.7 L441.3,501.7 L444.9,521.3 L437.8,533.8 L432.4,546.3"/>
<path d="M437.8,533.8 L446.7,548.1 L455.6,542.7"/>
<path d="M444.9,549.9 L441.3,567.7 L448.5,590.9"/>
<path d="M455.6,542.7 L461.0,562.3 L462.7,578.4 L466.3,589.1"/>
<path d="M461.0,562.3 L477.0,555.2 L491.3,558.8"/>
<path d="M446.7,548.1 L444.9,558.8 L441.3,567.7"/>
<path d="M57.5,490.0 L67.5,488.8 L75.0,497.5 L90.0,507.5 L77.5,515.0 L70.0,530.0 L60.0,540.0 L62.5,552.5 L55.0,562.5 L47.5,577.5"/>
</g>
<text x="3.50" y="33.00" font-size="37.00" fill="#231F20" font-weight="bold" text-anchor="start" textLength="348" lengthAdjust="spacingAndGlyphs">Затмили всю Европу</text>
<text x="4.20" y="51.70" font-size="12.00" fill="#333333" font-weight="normal" text-anchor="start" textLength="275.3" lengthAdjust="spacingAndGlyphs">Между размером теневого сектора и подвержен-</text>
<text x="4.20" y="67.05" font-size="12.00" fill="#333333" font-weight="normal" text-anchor="start" textLength="241.8" lengthAdjust="spacingAndGlyphs">ностью экономики кризису прослеживается</text>
<text x="4.20" y="82.40" font-size="12.00" fill="#333333" font-weight="normal" text-anchor="start" textLength="245.8" lengthAdjust="spacingAndGlyphs">отчётливая связь. Греция, Италия, Испания –</text>
<text x="4.20" y="97.75" font-size="12.00" fill="#333333" font-weight="normal" text-anchor="start" textLength="260.2" lengthAdjust="spacingAndGlyphs">лучший тому пример. Но Украина по масштабу</text>
<text x="4.20" y="113.10" font-size="12.00" fill="#333333" font-weight="normal" text-anchor="start" textLength="254.2" lengthAdjust="spacingAndGlyphs">своей теневой экономики даёт фору даже им</text>
<text x="5.60" y="354.00" font-size="13.00" fill="#231F20" font-weight="bold" text-anchor="start" textLength="56.9" lengthAdjust="spacingAndGlyphs">Размеры</text>
<text x="5.60" y="368.75" font-size="13.00" fill="#231F20" font-weight="bold" text-anchor="start" textLength="53.8" lengthAdjust="spacingAndGlyphs">теневых</text>
<text x="5.60" y="383.50" font-size="13.00" fill="#231F20" font-weight="bold" text-anchor="start" textLength="62.4" lengthAdjust="spacingAndGlyphs">экономик</text>
<text x="5.60" y="398.25" font-size="13.00" fill="#231F20" font-weight="bold" text-anchor="start" textLength="94.4" lengthAdjust="spacingAndGlyphs">в европейских</text>
<text x="5.60" y="413.00" font-size="13.00" fill="#231F20" font-weight="bold" text-anchor="start" textLength="55.4" lengthAdjust="spacingAndGlyphs">странах*</text>
<text x="558.8" y="413.2" font-size="16.5" font-weight="bold" fill="#fff" textLength="66" lengthAdjust="spacing">40–60%</text>
<text x="626.5" y="410" font-size="12" font-weight="bold" fill="#fff" textLength="19" lengthAdjust="spacing">***</text>
<text x="351.50" y="204.50" font-size="17.20" fill="#FFFFFF" font-weight="bold" text-anchor="middle" >14%</text>
<text x="351.50" y="216.00" font-size="9.50" fill="#FFFFFF" font-weight="normal" text-anchor="middle" >Норвегия</text>
<text x="428.50" y="146.00" font-size="17.20" fill="#FFFFFF" font-weight="bold" text-anchor="middle" >14%</text>
<text x="428.50" y="157.00" font-size="9.50" fill="#FFFFFF" font-weight="normal" text-anchor="middle" >Швеция</text>
<text x="572.00" y="126.00" font-size="17.20" fill="#CC1E40" font-weight="bold" text-anchor="middle" >13%</text>
<text x="572.00" y="136.50" font-size="9.50" fill="#CC1E40" font-weight="normal" text-anchor="middle" >Финляндия</text>
<text x="239.00" y="268.50" font-size="17.20" fill="#CC1E40" font-weight="bold" text-anchor="middle" >10%</text>
<text x="239.00" y="280.00" font-size="9.50" fill="#CC1E40" font-weight="normal" text-anchor="middle" >Великобритания</text>
<text x="72.50" y="288.50" font-size="17.20" fill="#CC1E40" font-weight="bold" text-anchor="middle" >12%**</text>
<text x="72.50" y="298.50" font-size="9.50" fill="#CC1E40" font-weight="normal" text-anchor="middle" >Ирландия</text>
<text x="308.50" y="277.00" font-size="17.20" fill="#CC1E40" font-weight="bold" text-anchor="middle" >13%</text>
<text x="308.50" y="288.50" font-size="9.50" fill="#CC1E40" font-weight="normal" text-anchor="middle" >Дания</text>
<text x="284.00" y="317.00" font-size="17.20" fill="#E8806F" font-weight="bold" text-anchor="middle" >9%</text>
<text x="284.00" y="327.50" font-size="9.50" fill="#E8806F" font-weight="normal" text-anchor="middle" >Нидерланды</text>
<text x="246.50" y="346.00" font-size="17.20" fill="#A8163A" font-weight="bold" text-anchor="middle" >16%</text>
<text x="246.50" y="356.00" font-size="9.50" fill="#A8163A" font-weight="normal" text-anchor="middle" >Бельгия</text>
<text x="338.00" y="372.00" font-size="17.20" fill="#FFFFFF" font-weight="bold" text-anchor="middle" >13%</text>
<text x="338.00" y="383.50" font-size="9.50" fill="#FFFFFF" font-weight="normal" text-anchor="middle" >Германия</text>
<text x="445.50" y="371.00" font-size="17.20" fill="#FFFFFF" font-weight="bold" text-anchor="middle" >24%</text>
<text x="445.50" y="381.00" font-size="9.50" fill="#FFFFFF" font-weight="normal" text-anchor="middle" >Польша</text>
<text x="388.50" y="413.50" font-size="17.20" fill="#FFFFFF" font-weight="bold" text-anchor="middle" >16%</text>
<text x="388.50" y="422.00" font-size="9.50" fill="#FFFFFF" font-weight="normal" text-anchor="middle" >Чехия</text>
<text x="456.50" y="423.50" font-size="17.20" fill="#FFFFFF" font-weight="bold" text-anchor="middle" >15%</text>
<text x="456.50" y="434.50" font-size="9.50" fill="#FFFFFF" font-weight="normal" text-anchor="middle" >Словакия</text>
<text x="227.50" y="440.00" font-size="17.20" fill="#FFFFFF" font-weight="bold" text-anchor="middle" >10%</text>
<text x="227.50" y="452.00" font-size="9.50" fill="#FFFFFF" font-weight="normal" text-anchor="middle" >Франция</text>
<text x="291.50" y="446.00" font-size="17.20" fill="#FFFFFF" font-weight="bold" text-anchor="middle" >7%</text>
<text x="291.50" y="457.50" font-size="9.50" fill="#FFFFFF" font-weight="normal" text-anchor="middle" >Швейцария</text>
<text x="385.00" y="453.50" font-size="17.20" fill="#FFFFFF" font-weight="bold" text-anchor="middle" >8%</text>
<text x="385.00" y="464.50" font-size="9.50" fill="#FFFFFF" font-weight="normal" text-anchor="middle" >Австрия</text>
<text x="444.00" y="468.50" font-size="17.20" fill="#FFFFFF" font-weight="bold" text-anchor="middle" >22%</text>
<text x="444.00" y="478.50" font-size="9.50" fill="#FFFFFF" font-weight="normal" text-anchor="middle" >Венгрия</text>
<text x="325.00" y="492.00" font-size="17.20" fill="#FFFFFF" font-weight="bold" text-anchor="middle" >21%</text>
<text x="325.00" y="503.50" font-size="9.50" fill="#FFFFFF" font-weight="normal" text-anchor="middle" >Италия</text>
<text x="25.00" y="497.50" font-size="17.20" fill="#A8163A" font-weight="bold" text-anchor="middle" >19%</text>
<text x="25.00" y="507.50" font-size="9.50" fill="#A8163A" font-weight="normal" text-anchor="middle" >Португалия</text>
<text x="116.00" y="533.50" font-size="17.20" fill="#FFFFFF" font-weight="bold" text-anchor="middle" >19%</text>
<text x="116.00" y="544.50" font-size="9.50" fill="#FFFFFF" font-weight="normal" text-anchor="middle" >Испания</text>
<text x="555.50" y="251.00" font-size="17.20" fill="#80102A" font-weight="bold" text-anchor="middle" >28%</text>
<text x="555.50" y="262.00" font-size="9.50" fill="#80102A" font-weight="normal" text-anchor="middle" >Эстония</text>
<text x="560.00" y="284.50" font-size="17.20" fill="#80102A" font-weight="bold" text-anchor="middle" >25%</text>
<text x="560.00" y="295.00" font-size="9.50" fill="#80102A" font-weight="normal" text-anchor="middle" >Латвия</text>
<text x="544.50" y="320.00" font-size="17.20" fill="#80102A" font-weight="bold" text-anchor="middle" >28%</text>
<text x="544.50" y="331.00" font-size="9.50" fill="#80102A" font-weight="normal" text-anchor="middle" >Литва</text>
<text x="602.00" y="424.50" font-size="9.50" fill="#FFFFFF" font-weight="normal" text-anchor="middle" >Украина</text>
<text x="537.50" y="496.00" font-size="17.20" fill="#FFFFFF" font-weight="bold" text-anchor="middle" >28%</text>
<text x="537.50" y="507.50" font-size="9.50" fill="#FFFFFF" font-weight="normal" text-anchor="middle" >Румыния</text>
<text x="587.50" y="541.00" font-size="17.20" fill="#80102A" font-weight="bold" text-anchor="middle" >31%</text>
<text x="587.50" y="552.00" font-size="9.50" fill="#80102A" font-weight="normal" text-anchor="middle" >Болгария</text>
<text x="640.00" y="598.50" font-size="17.20" fill="#FFFFFF" font-weight="bold" text-anchor="middle" >27%</text>
<text x="640.00" y="611.00" font-size="9.50" fill="#FFFFFF" font-weight="normal" text-anchor="middle" >Турция</text>
<text x="475.00" y="606.00" font-size="17.20" fill="#FFFFFF" font-weight="bold" text-anchor="middle" >24%</text>
<text x="475.00" y="616.00" font-size="9.50" fill="#FFFFFF" font-weight="normal" text-anchor="middle" >Греция</text>
<text x="421" y="507.5" font-size="16.5" font-weight="bold" text-anchor="middle" fill="#fff" stroke="#C0304A" stroke-width="0.45">28%</text>
<text x="421" y="517" font-size="9.5" text-anchor="middle" fill="#fff" stroke="#C0304A" stroke-width="0.3">Хорватия</text>
<text transform="translate(723.5,13.90) scale(0.9,1)" font-size="9" fill="#231F20">Германия</text>
<rect x="723" y="16.30" width="277.00" height="9" fill="#84D4F2"/>
<rect x="723" y="16.30" width="36.50" height="9" fill="#C0102B"/>
<circle cx="816.25" cy="20.80" r="4.6" fill="#231F20" stroke="#fff" stroke-width="1.4"/>
<text x="761.00" y="24.80" font-size="10.50" fill="#8A1638" font-weight="bold" text-anchor="start" >2697</text>
<text x="1001.00" y="24.80" font-size="10.50" fill="#4E9CC4" font-weight="bold" text-anchor="start" >351</text>
<text x="825.00" y="24.80" font-size="10.50" fill="#231F20" font-weight="bold" text-anchor="start" >13%</text>
<text transform="translate(723.5,38.99) scale(0.9,1)" font-size="9" fill="#231F20">Франция</text>
<rect x="723" y="41.39" width="212.00" height="9" fill="#84D4F2"/>
<rect x="723" y="41.39" width="20.75" height="9" fill="#C0102B"/>
<circle cx="785.75" cy="45.89" r="4.6" fill="#231F20" stroke="#fff" stroke-width="1.4"/>
<text x="745.00" y="49.89" font-size="10.50" fill="#8A1638" font-weight="bold" text-anchor="start" >2062</text>
<text x="936.00" y="49.89" font-size="10.50" fill="#4E9CC4" font-weight="bold" text-anchor="start" >204</text>
<text x="795.00" y="49.89" font-size="10.50" fill="#231F20" font-weight="bold" text-anchor="start" >10%</text>
<text transform="translate(723.5,64.08) scale(0.9,1)" font-size="9" fill="#231F20">Великобритания</text>
<rect x="723" y="66.48" width="200.00" height="9" fill="#84D4F2"/>
<rect x="723" y="66.48" width="19.50" height="9" fill="#C0102B"/>
<circle cx="785.75" cy="70.98" r="4.6" fill="#231F20" stroke="#fff" stroke-width="1.4"/>
<text x="745.00" y="74.98" font-size="10.50" fill="#8A1638" font-weight="bold" text-anchor="start" >1950</text>
<text x="925.75" y="74.98" font-size="10.50" fill="#4E9CC4" font-weight="bold" text-anchor="start" >189</text>
<text x="795.00" y="74.98" font-size="10.50" fill="#231F20" font-weight="bold" text-anchor="start" >10%</text>
<text transform="translate(723.5,89.17) scale(0.9,1)" font-size="9" fill="#231F20">Бельгия</text>
<rect x="723" y="91.57" width="39.00" height="9" fill="#84D4F2"/>
<rect x="723" y="91.57" width="6.50" height="9" fill="#C0102B"/>
<line x1="777.50" y1="96.07" x2="848.75" y2="96.07" stroke="#8A8A8A" stroke-width="0.9"/>
<circle cx="848.75" cy="96.07" r="4.6" fill="#231F20" stroke="#fff" stroke-width="1.4"/>
<text x="730.50" y="100.07" font-size="10.50" fill="#8A1638" font-weight="bold" text-anchor="start" >385</text>
<text x="763.75" y="100.07" font-size="10.50" fill="#4E9CC4" font-weight="bold" text-anchor="start" >63</text>
<text x="855.00" y="100.07" font-size="10.50" fill="#231F20" font-weight="bold" text-anchor="start" >16%</text>
<text transform="translate(723.5,114.26) scale(0.9,1)" font-size="9" fill="#231F20">Швеция</text>
<rect x="723" y="116.66" width="43.25" height="9" fill="#84D4F2"/>
<rect x="723" y="116.66" width="6.50" height="9" fill="#C0102B"/>
<line x1="781.00" y1="121.16" x2="822.50" y2="121.16" stroke="#8A8A8A" stroke-width="0.9"/>
<circle cx="822.50" cy="121.16" r="4.6" fill="#231F20" stroke="#fff" stroke-width="1.4"/>
<text x="730.50" y="125.16" font-size="10.50" fill="#8A1638" font-weight="bold" text-anchor="start" >423</text>
<text x="768.75" y="125.16" font-size="10.50" fill="#4E9CC4" font-weight="bold" text-anchor="start" >59</text>
<text x="829.50" y="125.16" font-size="10.50" fill="#231F20" font-weight="bold" text-anchor="start" >14%</text>
<text transform="translate(723.5,139.35) scale(0.9,1)" font-size="9" fill="#231F20">Норвегия</text>
<rect x="723" y="141.75" width="42.50" height="9" fill="#84D4F2"/>
<rect x="723" y="141.75" width="6.50" height="9" fill="#C0102B"/>
<line x1="780.00" y1="146.25" x2="820.75" y2="146.25" stroke="#8A8A8A" stroke-width="0.9"/>
<circle cx="820.75" cy="146.25" r="4.6" fill="#231F20" stroke="#fff" stroke-width="1.4"/>
<text x="730.50" y="150.25" font-size="10.50" fill="#8A1638" font-weight="bold" text-anchor="start" >416</text>
<text x="767.50" y="150.25" font-size="10.50" fill="#4E9CC4" font-weight="bold" text-anchor="start" >57</text>
<text x="827.50" y="150.25" font-size="10.50" fill="#231F20" font-weight="bold" text-anchor="start" >14%</text>
<text transform="translate(723.5,164.44) scale(0.9,1)" font-size="9" fill="#231F20">Нидерланды</text>
<rect x="723" y="166.84" width="49.50" height="9" fill="#84D4F2"/>
<rect x="723" y="166.84" width="6.50" height="9" fill="#C0102B"/>
<circle cx="778.25" cy="171.34" r="4.6" fill="#231F20" stroke="#fff" stroke-width="1.4"/>
<text x="730.50" y="175.34" font-size="10.50" fill="#8A1638" font-weight="bold" text-anchor="start" >607</text>
<text x="805.50" y="175.34" font-size="10.50" fill="#4E9CC4" font-weight="bold" text-anchor="start" >55</text>
<text x="786.00" y="175.34" font-size="10.50" fill="#231F20" font-weight="bold" text-anchor="start" >9%</text>
<text transform="translate(723.5,189.53) scale(0.9,1)" font-size="9" fill="#231F20">Швейцария</text>
<rect x="723" y="191.93" width="52.00" height="9" fill="#84D4F2"/>
<rect x="723" y="191.93" width="3.00" height="9" fill="#C0102B"/>
<circle cx="758.00" cy="196.43" r="4.6" fill="#231F20" stroke="#fff" stroke-width="1.4"/>
<text x="727.50" y="200.43" font-size="10.50" fill="#8A1638" font-weight="bold" text-anchor="start" >507</text>
<text x="785.75" y="200.43" font-size="10.50" fill="#4E9CC4" font-weight="bold" text-anchor="start" >36</text>
<text x="766.25" y="200.43" font-size="10.50" fill="#231F20" font-weight="bold" text-anchor="start" >7%</text>
<text transform="translate(723.5,214.62) scale(0.9,1)" font-size="9" fill="#231F20">Дания</text>
<rect x="723" y="217.02" width="25.75" height="9" fill="#84D4F2"/>
<rect x="723" y="217.02" width="3.00" height="9" fill="#C0102B"/>
<line x1="764.50" y1="221.52" x2="815.50" y2="221.52" stroke="#8A8A8A" stroke-width="0.9"/>
<circle cx="815.50" cy="221.52" r="4.6" fill="#231F20" stroke="#fff" stroke-width="1.4"/>
<text x="727.50" y="225.52" font-size="10.50" fill="#8A1638" font-weight="bold" text-anchor="start" >250</text>
<text x="750.75" y="225.52" font-size="10.50" fill="#4E9CC4" font-weight="bold" text-anchor="start" >32</text>
<text x="822.50" y="225.52" font-size="10.50" fill="#231F20" font-weight="bold" text-anchor="start" >13%</text>
<text transform="translate(723.5,239.71) scale(0.9,1)" font-size="9" fill="#231F20">Финляндия</text>
<rect x="723" y="242.11" width="20.00" height="9" fill="#84D4F2"/>
<rect x="723" y="242.11" width="2.75" height="9" fill="#C0102B"/>
<line x1="782.50" y1="246.61" x2="815.50" y2="246.61" stroke="#8A8A8A" stroke-width="0.9"/>
<circle cx="815.50" cy="246.61" r="4.6" fill="#231F20" stroke="#fff" stroke-width="1.4"/>
<text x="746.25" y="250.61" font-size="10.50" fill="#8A1638" font-weight="bold" text-anchor="start" >199</text>
<text x="768.75" y="250.61" font-size="10.50" fill="#4E9CC4" font-weight="bold" text-anchor="start" >26</text>
<text x="822.00" y="250.61" font-size="10.50" fill="#231F20" font-weight="bold" text-anchor="start" >13%</text>
<text transform="translate(723.5,264.80) scale(0.9,1)" font-size="9" fill="#231F20">Австрия</text>
<rect x="723" y="267.20" width="32.50" height="9" fill="#84D4F2"/>
<rect x="723" y="267.20" width="2.75" height="9" fill="#C0102B"/>
<circle cx="763.75" cy="271.70" r="4.6" fill="#231F20" stroke="#fff" stroke-width="1.4"/>
<text x="726.75" y="275.70" font-size="10.50" fill="#8A1638" font-weight="bold" text-anchor="start" >319</text>
<text x="770.50" y="275.70" font-size="10.50" fill="#231F20" font-weight="bold" text-anchor="start" >8%</text>
<text transform="translate(723.5,289.89) scale(0.9,1)" font-size="9" fill="#231F20">Ирландия</text>
<rect x="723" y="292.29" width="16.50" height="9" fill="#84D4F2"/>
<rect x="723" y="292.29" width="2.00" height="9" fill="#C0102B"/>
<line x1="780.00" y1="296.79" x2="807.00" y2="296.79" stroke="#8A8A8A" stroke-width="0.9"/>
<circle cx="807.00" cy="296.79" r="4.6" fill="#231F20" stroke="#fff" stroke-width="1.4"/>
<text x="741.25" y="300.79" font-size="10.50" fill="#8A1638" font-weight="bold" text-anchor="start" >167</text>
<text x="766.25" y="300.79" font-size="10.50" fill="#4E9CC4" font-weight="bold" text-anchor="start" >20</text>
<text x="813.75" y="300.79" font-size="10.50" fill="#231F20" font-weight="bold" text-anchor="start" >12%</text>
<text transform="translate(723.5,314.98) scale(0.9,1)" font-size="9" fill="#231F20">Италия</text>
<rect x="723" y="317.38" width="162.00" height="9" fill="#84D4F2"/>
<rect x="723" y="317.38" width="34.50" height="9" fill="#C0102B"/>
<circle cx="894.50" cy="321.88" r="4.6" fill="#231F20" stroke="#fff" stroke-width="1.4"/>
<text x="758.75" y="325.88" font-size="10.50" fill="#8A1638" font-weight="bold" text-anchor="start" >1577</text>
<text x="928.75" y="325.88" font-size="10.50" fill="#4E9CC4" font-weight="bold" text-anchor="start" >33</text>
<text x="901.25" y="325.88" font-size="10.50" fill="#231F20" font-weight="bold" text-anchor="start" >21%</text>
<text transform="translate(723.5,340.07) scale(0.9,1)" font-size="9" fill="#231F20">Испания</text>
<rect x="723" y="342.47" width="107.50" height="9" fill="#84D4F2"/>
<rect x="723" y="342.47" width="19.50" height="9" fill="#C0102B"/>
<line x1="852.50" y1="346.97" x2="870.00" y2="346.97" stroke="#8A8A8A" stroke-width="0.9"/>
<circle cx="870.00" cy="346.97" r="4.6" fill="#231F20" stroke="#fff" stroke-width="1.4"/>
<text x="745.00" y="350.97" font-size="10.50" fill="#8A1638" font-weight="bold" text-anchor="start" >1052</text>
<text x="833.75" y="350.97" font-size="10.50" fill="#4E9CC4" font-weight="bold" text-anchor="start" >192</text>
<text x="877.00" y="350.97" font-size="10.50" fill="#231F20" font-weight="bold" text-anchor="start" >19%</text>
<text transform="translate(723.5,365.16) scale(0.9,1)" font-size="9" fill="#231F20">Турция</text>
<rect x="723" y="367.56" width="68.60" height="9" fill="#84D4F2"/>
<rect x="723" y="367.56" width="18.25" height="9" fill="#C0102B"/>
<line x1="815.60" y1="372.06" x2="946.90" y2="372.06" stroke="#8A8A8A" stroke-width="0.9"/>
<circle cx="946.90" cy="372.06" r="4.6" fill="#231F20" stroke="#fff" stroke-width="1.4"/>
<text x="743.75" y="376.06" font-size="10.50" fill="#8A1638" font-weight="bold" text-anchor="start" >667</text>
<text x="795.30" y="376.06" font-size="10.50" fill="#4E9CC4" font-weight="bold" text-anchor="start" >177</text>
<text x="953.75" y="376.06" font-size="10.50" fill="#231F20" font-weight="bold" text-anchor="start" >27%</text>
<text transform="translate(723.5,390.25) scale(0.9,1)" font-size="9" fill="#231F20">Греция</text>
<rect x="723" y="392.65" width="18.60" height="9" fill="#84D4F2"/>
<rect x="723" y="392.65" width="4.50" height="9" fill="#C0102B"/>
<line x1="782.80" y1="397.15" x2="919.40" y2="397.15" stroke="#8A8A8A" stroke-width="0.9"/>
<circle cx="919.40" cy="397.15" r="4.6" fill="#231F20" stroke="#fff" stroke-width="1.4"/>
<text x="743.75" y="401.15" font-size="10.50" fill="#8A1638" font-weight="bold" text-anchor="start" >183</text>
<text x="768.75" y="401.15" font-size="10.50" fill="#4E9CC4" font-weight="bold" text-anchor="start" >43</text>
<text x="926.60" y="401.15" font-size="10.50" fill="#231F20" font-weight="bold" text-anchor="start" >24%</text>
<text transform="translate(723.5,415.34) scale(0.9,1)" font-size="9" fill="#231F20">Португалия</text>
<rect x="723" y="417.74" width="17.00" height="9" fill="#84D4F2"/>
<rect x="723" y="417.74" width="3.50" height="9" fill="#C0102B"/>
<line x1="780.60" y1="422.24" x2="873.75" y2="422.24" stroke="#8A8A8A" stroke-width="0.9"/>
<circle cx="873.75" cy="422.24" r="4.6" fill="#231F20" stroke="#fff" stroke-width="1.4"/>
<text x="742.20" y="426.24" font-size="10.50" fill="#8A1638" font-weight="bold" text-anchor="start" >164</text>
<text x="766.25" y="426.24" font-size="10.50" fill="#4E9CC4" font-weight="bold" text-anchor="start" >31</text>
<text x="880.60" y="426.24" font-size="10.50" fill="#231F20" font-weight="bold" text-anchor="start" >19%</text>
<text transform="translate(723.5,440.43) scale(0.9,1)" font-size="9" fill="#231F20">Польша</text>
<rect x="723" y="442.83" width="41.00" height="9" fill="#84D4F2"/>
<rect x="723" y="442.83" width="9.80" height="9" fill="#C0102B"/>
<line x1="779.70" y1="447.33" x2="920.60" y2="447.33" stroke="#8A8A8A" stroke-width="0.9"/>
<circle cx="920.60" cy="447.33" r="4.6" fill="#231F20" stroke="#fff" stroke-width="1.4"/>
<text x="735.00" y="451.33" font-size="10.50" fill="#8A1638" font-weight="bold" text-anchor="start" >400</text>
<text x="765.60" y="451.33" font-size="10.50" fill="#4E9CC4" font-weight="bold" text-anchor="start" >95</text>
<text x="927.50" y="451.33" font-size="10.50" fill="#231F20" font-weight="bold" text-anchor="start" >24%</text>
<text transform="translate(723.5,465.52) scale(0.9,1)" font-size="9" fill="#231F20">Румыния</text>
<rect x="723" y="467.92" width="13.90" height="9" fill="#84D4F2"/>
<rect x="723" y="467.92" width="4.50" height="9" fill="#C0102B"/>
<line x1="776.60" y1="472.42" x2="967.20" y2="472.42" stroke="#8A8A8A" stroke-width="0.9"/>
<circle cx="967.20" cy="472.42" r="4.6" fill="#231F20" stroke="#fff" stroke-width="1.4"/>
<text x="738.40" y="476.42" font-size="10.50" fill="#8A1638" font-weight="bold" text-anchor="start" >139</text>
<text x="762.50" y="476.42" font-size="10.50" fill="#4E9CC4" font-weight="bold" text-anchor="start" >40</text>
<text x="974.40" y="476.42" font-size="10.50" fill="#231F20" font-weight="bold" text-anchor="start" >28%</text>
<text transform="translate(723.5,490.61) scale(0.9,1)" font-size="9" fill="#231F20">Чехия</text>
<rect x="723" y="493.01" width="16.00" height="9" fill="#84D4F2"/>
<rect x="723" y="493.01" width="2.60" height="9" fill="#C0102B"/>
<line x1="778.00" y1="497.51" x2="840.60" y2="497.51" stroke="#8A8A8A" stroke-width="0.9"/>
<circle cx="840.60" cy="497.51" r="4.6" fill="#231F20" stroke="#fff" stroke-width="1.4"/>
<text x="741.25" y="501.51" font-size="10.50" fill="#8A1638" font-weight="bold" text-anchor="start" >154</text>
<text x="765.00" y="501.51" font-size="10.50" fill="#4E9CC4" font-weight="bold" text-anchor="start" >24</text>
<text x="847.50" y="501.51" font-size="10.50" fill="#231F20" font-weight="bold" text-anchor="start" >16%</text>
<text transform="translate(723.5,515.70) scale(0.9,1)" font-size="9" fill="#231F20">Венгрия</text>
<rect x="723" y="518.10" width="10.75" height="9" fill="#84D4F2"/>
<rect x="723" y="518.10" width="2.60" height="9" fill="#C0102B"/>
<line x1="772.50" y1="522.60" x2="904.70" y2="522.60" stroke="#8A8A8A" stroke-width="0.9"/>
<circle cx="904.70" cy="522.60" r="4.6" fill="#231F20" stroke="#fff" stroke-width="1.4"/>
<text x="736.00" y="526.60" font-size="10.50" fill="#8A1638" font-weight="bold" text-anchor="start" >103</text>
<text x="759.40" y="526.60" font-size="10.50" fill="#4E9CC4" font-weight="bold" text-anchor="start" >23</text>
<text x="911.00" y="526.60" font-size="10.50" fill="#231F20" font-weight="bold" text-anchor="start" >22%</text>
<text transform="translate(723.5,540.79) scale(0.9,1)" font-size="9" fill="#231F20">Болгария</text>
<rect x="723" y="543.19" width="4.50" height="9" fill="#84D4F2"/>
<rect x="723" y="543.19" width="2.00" height="9" fill="#C0102B"/>
<line x1="762.50" y1="547.69" x2="993.75" y2="547.69" stroke="#8A8A8A" stroke-width="0.9"/>
<circle cx="993.75" cy="547.69" r="4.6" fill="#231F20" stroke="#fff" stroke-width="1.4"/>
<text x="728.75" y="551.69" font-size="10.50" fill="#8A1638" font-weight="bold" text-anchor="start" >41</text>
<text x="747.50" y="551.69" font-size="10.50" fill="#4E9CC4" font-weight="bold" text-anchor="start" >13</text>
<text x="1000.00" y="551.69" font-size="10.50" fill="#231F20" font-weight="bold" text-anchor="start" >31%</text>
<text transform="translate(723.5,565.88) scale(0.9,1)" font-size="9" fill="#231F20">Хорватия</text>
<rect x="723" y="568.28" width="4.50" height="9" fill="#84D4F2"/>
<rect x="723" y="568.28" width="2.00" height="9" fill="#C0102B"/>
<line x1="762.50" y1="572.78" x2="967.20" y2="572.78" stroke="#8A8A8A" stroke-width="0.9"/>
<circle cx="967.20" cy="572.78" r="4.6" fill="#231F20" stroke="#fff" stroke-width="1.4"/>
<text x="728.75" y="576.78" font-size="10.50" fill="#8A1638" font-weight="bold" text-anchor="start" >45</text>
<text x="747.50" y="576.78" font-size="10.50" fill="#4E9CC4" font-weight="bold" text-anchor="start" >13</text>
<text x="974.40" y="576.78" font-size="10.50" fill="#231F20" font-weight="bold" text-anchor="start" >28%</text>
<text transform="translate(723.5,590.97) scale(0.9,1)" font-size="9" fill="#231F20">Словакия</text>
<rect x="723" y="593.37" width="7.30" height="9" fill="#84D4F2"/>
<rect x="723" y="593.37" width="2.00" height="9" fill="#C0102B"/>
<line x1="767.00" y1="597.87" x2="836.00" y2="597.87" stroke="#8A8A8A" stroke-width="0.9"/>
<circle cx="836.00" cy="597.87" r="4.6" fill="#231F20" stroke="#fff" stroke-width="1.4"/>
<text x="732.80" y="601.87" font-size="10.50" fill="#8A1638" font-weight="bold" text-anchor="start" >74</text>
<text x="753.00" y="601.87" font-size="10.50" fill="#4E9CC4" font-weight="bold" text-anchor="start" >11</text>
<text x="843.00" y="601.87" font-size="10.50" fill="#231F20" font-weight="bold" text-anchor="start" >15%</text>
<text transform="translate(723.5,616.06) scale(0.9,1)" font-size="9" fill="#231F20">Литва</text>
<rect x="723" y="618.46" width="3.50" height="9" fill="#84D4F2"/>
<rect x="723" y="618.46" width="2.00" height="9" fill="#C0102B"/>
<line x1="757.80" y1="622.96" x2="961.90" y2="622.96" stroke="#8A8A8A" stroke-width="0.9"/>
<circle cx="961.90" cy="622.96" r="4.6" fill="#231F20" stroke="#fff" stroke-width="1.4"/>
<text x="728.00" y="626.96" font-size="10.50" fill="#8A1638" font-weight="bold" text-anchor="start" >35</text>
<text x="746.00" y="626.96" font-size="10.50" fill="#4E9CC4" font-weight="bold" text-anchor="start" >10</text>
<text x="968.75" y="626.96" font-size="10.50" fill="#231F20" font-weight="bold" text-anchor="start" >28%</text>
<text transform="translate(723.5,641.15) scale(0.9,1)" font-size="9" fill="#231F20">Словения</text>
<rect x="723" y="643.55" width="3.50" height="9" fill="#84D4F2"/>
<rect x="723" y="643.55" width="2.00" height="9" fill="#C0102B"/>
<line x1="757.80" y1="648.05" x2="913.40" y2="648.05" stroke="#8A8A8A" stroke-width="0.9"/>
<circle cx="913.40" cy="648.05" r="4.6" fill="#231F20" stroke="#fff" stroke-width="1.4"/>
<text x="728.00" y="652.05" font-size="10.50" fill="#8A1638" font-weight="bold" text-anchor="start" >35</text>
<text x="746.90" y="652.05" font-size="10.50" fill="#4E9CC4" font-weight="bold" text-anchor="start" >8</text>
<text x="920.30" y="652.05" font-size="10.50" fill="#231F20" font-weight="bold" text-anchor="start" >23%</text>
<text transform="translate(723.5,666.24) scale(0.9,1)" font-size="9" fill="#231F20">Латвия</text>
<rect x="723" y="668.64" width="3.50" height="9" fill="#84D4F2"/>
<rect x="723" y="668.64" width="2.00" height="9" fill="#C0102B"/>
<line x1="758.00" y1="673.14" x2="936.90" y2="673.14" stroke="#8A8A8A" stroke-width="0.9"/>
<circle cx="936.90" cy="673.14" r="4.6" fill="#231F20" stroke="#fff" stroke-width="1.4"/>
<text x="728.00" y="677.14" font-size="10.50" fill="#8A1638" font-weight="bold" text-anchor="start" >24</text>
<text x="747.80" y="677.14" font-size="10.50" fill="#4E9CC4" font-weight="bold" text-anchor="start" >6</text>
<text x="943.00" y="677.14" font-size="10.50" fill="#231F20" font-weight="bold" text-anchor="start" >25%</text>
<text transform="translate(723.5,691.33) scale(0.9,1)" font-size="9" fill="#231F20">Эстония</text>
<rect x="723" y="693.73" width="3.50" height="9" fill="#84D4F2"/>
<rect x="723" y="693.73" width="2.00" height="9" fill="#C0102B"/>
<line x1="758.00" y1="698.23" x2="958.75" y2="698.23" stroke="#8A8A8A" stroke-width="0.9"/>
<circle cx="958.75" cy="698.23" r="4.6" fill="#231F20" stroke="#fff" stroke-width="1.4"/>
<text x="728.75" y="702.23" font-size="10.50" fill="#8A1638" font-weight="bold" text-anchor="start" >18</text>
<text x="747.80" y="702.23" font-size="10.50" fill="#4E9CC4" font-weight="bold" text-anchor="start" >5</text>
<text x="965.00" y="702.23" font-size="10.50" fill="#231F20" font-weight="bold" text-anchor="start" >28%</text>
<circle cx="978.8" cy="159.3" r="6" fill="#84D4F2"/>
<text x="978.80" y="175.50" font-size="10.00" fill="#231F20" font-weight="bold" text-anchor="middle" textLength="56" lengthAdjust="spacingAndGlyphs">Размер ВВП,</text>
<text x="978.80" y="186.50" font-size="10.00" fill="#231F20" font-weight="bold" text-anchor="middle" textLength="48" lengthAdjust="spacingAndGlyphs">млрд евро</text>
<circle cx="978.8" cy="209.8" r="6" fill="#C0102B"/>
<text x="978.80" y="226.00" font-size="10.00" fill="#231F20" font-weight="bold" text-anchor="middle" textLength="89" lengthAdjust="spacingAndGlyphs">Теневая экономика,</text>
<text x="978.80" y="237.50" font-size="10.00" fill="#231F20" font-weight="bold" text-anchor="middle" textLength="48" lengthAdjust="spacingAndGlyphs">млрд евро</text>
<circle cx="978.8" cy="261.8" r="6" fill="#231F20"/>
<text x="978.80" y="277.50" font-size="10.00" fill="#231F20" font-weight="bold" text-anchor="middle" textLength="89" lengthAdjust="spacingAndGlyphs">Теневая экономика,</text>
<text x="978.80" y="288.50" font-size="10.00" fill="#231F20" font-weight="bold" text-anchor="middle" textLength="37" lengthAdjust="spacingAndGlyphs">% к ВВП</text>
<text x="3.00" y="661.50" font-size="12.50" fill="#231F20" font-weight="bold" text-anchor="start" textLength="164" lengthAdjust="spacingAndGlyphs">Уровень теневой экономики</text>
<circle cx="27.5" cy="676.4" r="8.3" fill="#560006"/>
<text x="2.50" y="693.60" font-size="10.50" fill="#231F20" font-weight="bold" text-anchor="start" textLength="49.1" lengthAdjust="spacingAndGlyphs">Более 40%</text>
<circle cx="88.3" cy="676.4" r="8.3" fill="#8E0A1E"/>
<text x="69.00" y="693.60" font-size="10.50" fill="#231F20" font-weight="bold" text-anchor="start" textLength="39.0" lengthAdjust="spacingAndGlyphs">25–40%</text>
<circle cx="148.3" cy="676.4" r="8.3" fill="#BF112C"/>
<text x="129.00" y="693.60" font-size="10.50" fill="#231F20" font-weight="bold" text-anchor="start" textLength="37.0" lengthAdjust="spacingAndGlyphs">15–24%</text>
<circle cx="208.6" cy="676.4" r="8.3" fill="#EC1D3B"/>
<text x="190.60" y="693.60" font-size="10.50" fill="#231F20" font-weight="bold" text-anchor="start" textLength="39.1" lengthAdjust="spacingAndGlyphs">10–14%</text>
<circle cx="268.0" cy="676.4" r="8.3" fill="#EE776A"/>
<text x="241.00" y="693.60" font-size="10.50" fill="#231F20" font-weight="bold" text-anchor="start" textLength="52.8" lengthAdjust="spacingAndGlyphs">Менее 10%</text>
<text x="3.00" y="727.00" font-size="8.50" fill="#231F20" font-weight="normal" text-anchor="start" textLength="527" lengthAdjust="spacingAndGlyphs">*Исследование по итогам 2013 года проведено профессором Линцского университета Фридрихом Шнайдером совместно с Visa Europe</text>
<text x="542.00" y="727.00" font-size="8.50" fill="#231F20" font-weight="normal" text-anchor="start" textLength="91" lengthAdjust="spacingAndGlyphs">**Теневая экономика, %</text>
<text x="647.00" y="727.00" font-size="8.50" fill="#231F20" font-weight="normal" text-anchor="start" textLength="148" lengthAdjust="spacingAndGlyphs">***По различным экспертным оценкам</text>
<g fill="#E30A1A" fill-rule="evenodd">
<path d="M549.40,678.80 H569.40 A10.00,10.00 0 0 1 579.40,688.80 V698.60 A10.00,10.00 0 0 1 569.40,708.60 H549.40 A10.00,10.00 0 0 1 539.40,698.60 V688.80 A10.00,10.00 0 0 1 549.40,678.80 Z M551.20,685.60 H552.00 A3.00,3.00 0 0 1 555.00,688.60 V698.70 A3.00,3.00 0 0 1 552.00,701.70 H551.20 A3.00,3.00 0 0 1 548.20,698.70 V688.60 A3.00,3.00 0 0 1 551.20,685.60 Z M567.30,685.60 H568.10 A3.00,3.00 0 0 1 571.10,688.60 V698.70 A3.00,3.00 0 0 1 568.10,701.70 H567.30 A3.00,3.00 0 0 1 564.30,698.70 V688.60 A3.00,3.00 0 0 1 567.30,685.60 Z"/>
<rect x="555" y="675.9" width="9.3" height="36.6"/>
<path d="M595.80,677.30 H600.10 A12.00,12.00 0 0 1 612.10,689.30 V700.00 A12.00,12.00 0 0 1 600.10,712.00 H595.80 A12.00,12.00 0 0 1 583.80,700.00 V689.30 A12.00,12.00 0 0 1 595.80,677.30 Z M597.60,685.60 H598.30 A6.00,6.00 0 0 1 604.30,691.60 V698.20 A6.00,6.00 0 0 1 598.30,704.20 H597.60 A6.00,6.00 0 0 1 591.60,698.20 V691.60 A6.00,6.00 0 0 1 597.60,685.60 Z"/>
<path d="M615.9,676.8 L625.1,676.8 L625.1,691 L634.4,676.8 L643.2,676.8 L632.2,694 L645.2,712.5 L635.4,712.5 L626,698.5 L625.1,699.8 L625.1,712.5 L615.9,712.5 Z"/>
<path d="M647.1,676.8 L655.9,676.8 L663.3,697.5 L670.5,676.8 L678.4,676.8 L664.7,712.5 L654.9,712.5 L658.6,702.8 Z"/>
<path d="M690.40,676.80 H694.70 A12.00,12.00 0 0 1 706.70,688.80 V700.50 A12.00,12.00 0 0 1 694.70,712.50 H690.40 A12.00,12.00 0 0 1 678.40,700.50 V688.80 A12.00,12.00 0 0 1 690.40,676.80 Z M692.10,685.60 H692.90 A5.00,5.00 0 0 1 697.90,690.60 V699.20 A5.00,5.00 0 0 1 692.90,704.20 H692.10 A5.00,5.00 0 0 1 687.10,699.20 V690.60 A5.00,5.00 0 0 1 692.10,685.60 Z"/>
<rect x="697" y="687.6" width="10.5" height="14.6" fill="#fff"/>
</g>
</svg></body></html>
